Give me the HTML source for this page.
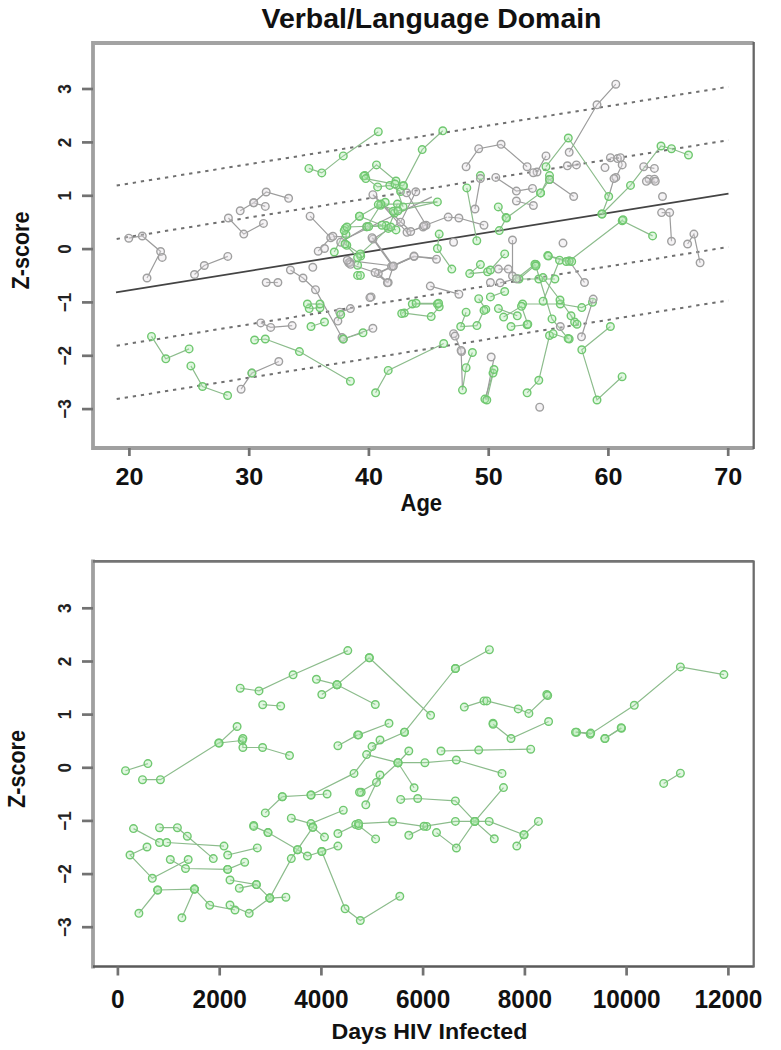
<!DOCTYPE html>
<html><head><meta charset="utf-8"><style>
html,body{margin:0;padding:0;background:#fff;}
body{width:781px;height:1050px;overflow:hidden;}
svg{display:block;}
text{font-family:"Liberation Sans",sans-serif;font-weight:bold;fill:#111;}
.yl{font-size:18px;font-weight:bold;fill:#222;}
.xl{font-size:24.2px;}
.xl2{font-size:26.5px;}
.al{font-size:22px;}
.ti{font-size:28px;}
</style></head><body>
<svg width="781" height="1050" viewBox="0 0 781 1050">
<defs><filter id="bl" x="-5%" y="-5%" width="110%" height="110%"><feGaussianBlur stdDeviation="0.6"/></filter></defs>
<rect width="781" height="1050" fill="#fff"/>

<text x="431.5" y="27.5" text-anchor="middle" class="ti" textLength="340" lengthAdjust="spacingAndGlyphs">Verbal/Language Domain</text>
<line x1="116" y1="292.4" x2="728.5" y2="193.6" stroke="#444" stroke-width="1.8"/>
<line x1="116" y1="185.6" x2="728.5" y2="86.8" stroke="#707070" stroke-width="2" stroke-dasharray="3.3 4.853" stroke-dashoffset="7.47"/>
<line x1="116" y1="239" x2="728.5" y2="140.2" stroke="#707070" stroke-width="2" stroke-dasharray="3.3 4.853" stroke-dashoffset="7.47"/>
<line x1="116" y1="345.8" x2="728.5" y2="247" stroke="#707070" stroke-width="2" stroke-dasharray="3.3 4.853" stroke-dashoffset="7.47"/>
<line x1="116" y1="399.2" x2="728.5" y2="300.4" stroke="#707070" stroke-width="2" stroke-dasharray="3.3 4.853" stroke-dashoffset="7.47"/>
<g filter="url(#bl)"><path d="M128.8 238.2 L142.3 236 L160.6 251.5 L147 278" stroke="#9c9c9c" stroke-width="1.2" fill="none"/>
<path d="M194.5 274.5 L204.3 265.5 L227.8 256.4" stroke="#9c9c9c" stroke-width="1.2" fill="none"/>
<path d="M228.4 218 L243.8 234.1 L263.5 223.4" stroke="#9c9c9c" stroke-width="1.2" fill="none"/>
<path d="M240.2 210.8 L253.7 202.8 L266.2 192 L288.6 198.3" stroke="#9c9c9c" stroke-width="1.2" fill="none"/>
<path d="M253.7 202.8 L265.3 206.4" stroke="#9c9c9c" stroke-width="1.2" fill="none"/>
<path d="M310.1 216.2 L330.7 237.7 L318.2 251.2" stroke="#9c9c9c" stroke-width="1.2" fill="none"/>
<path d="M266.2 282.5 L277.9 282.5" stroke="#9c9c9c" stroke-width="1.2" fill="none"/>
<path d="M290.4 270 L303 278 L315.5 289.7 L342 337.5" stroke="#9c9c9c" stroke-width="1.2" fill="none"/>
<path d="M260.8 322.9 L270.7 327.4 L292.2 325.6" stroke="#9c9c9c" stroke-width="1.2" fill="none"/>
<path d="M190.9 365.9 L202.5 386.5 L227.6 395.5" stroke="#8cbc8c" stroke-width="1.2" fill="none"/>
<path d="M241.1 389.2 L251.9 373.1 L278.8 361.5" stroke="#9c9c9c" stroke-width="1.2" fill="none"/>
<path d="M151.5 336.4 L165.8 358.8 L189.1 348.9" stroke="#8cbc8c" stroke-width="1.2" fill="none"/>
<path d="M254.6 340 L265.3 339 L299.4 351.6 L350.4 381.2" stroke="#8cbc8c" stroke-width="1.2" fill="none"/>
<path d="M308.9 168.4 L321.8 172.9 L343.3 155.9 L378.3 131.7" stroke="#8cbc8c" stroke-width="1.2" fill="none"/>
<path d="M442.8 130.8 L422.2 149.6 L403.4 185.8" stroke="#8cbc8c" stroke-width="1.2" fill="none"/>
<path d="M364.9 175.6 L376.5 164.9 L396 181" stroke="#8cbc8c" stroke-width="1.2" fill="none"/>
<path d="M466.1 166.7 L478.7 148.7 L501.1 144.3 L527.1 166.7" stroke="#9c9c9c" stroke-width="1.2" fill="none"/>
<path d="M615.8 84.2 L597 104.8 L569.2 152.3" stroke="#9c9c9c" stroke-width="1.2" fill="none"/>
<path d="M546 166.7 L568.3 138 L608.7 196.5 L602 214" stroke="#8cbc8c" stroke-width="1.2" fill="none"/>
<path d="M546 155.9 L537 172" stroke="#9c9c9c" stroke-width="1.2" fill="none"/>
<path d="M549.5 175.6 L540.6 192.9" stroke="#8cbc8c" stroke-width="1.2" fill="none"/>
<path d="M610.4 157.7 L617.6 158.6" stroke="#9c9c9c" stroke-width="1.2" fill="none"/>
<path d="M615.8 177.4 L622.2 164.9 L620.4 157.7" stroke="#9c9c9c" stroke-width="1.2" fill="none"/>
<path d="M688.5 155 L671.5 148.7 L661 146 L630.5 185.4 L602 214" stroke="#8cbc8c" stroke-width="1.2" fill="none"/>
<path d="M643.7 166.7 L654.4 168.4" stroke="#9c9c9c" stroke-width="1.2" fill="none"/>
<path d="M649 179.2 L654.4 179.2" stroke="#9c9c9c" stroke-width="1.2" fill="none"/>
<path d="M646.4 181.3 L655.3 181.3" stroke="#9c9c9c" stroke-width="1.2" fill="none"/>
<path d="M661.6 212.6 L669.7 212.6 L671.5 241.3" stroke="#9c9c9c" stroke-width="1.2" fill="none"/>
<path d="M622.2 220.7 L652.6 235.9" stroke="#8cbc8c" stroke-width="1.2" fill="none"/>
<path d="M687.6 244 L693.9 234.1 L700.1 262.8" stroke="#9c9c9c" stroke-width="1.2" fill="none"/>
<path d="M576.4 164.9 L567.4 165.8" stroke="#9c9c9c" stroke-width="1.2" fill="none"/>
<path d="M495.8 177.4 L516.4 191.1 L532.5 188.4" stroke="#9c9c9c" stroke-width="1.2" fill="none"/>
<path d="M516.4 201 L533.4 205.5" stroke="#9c9c9c" stroke-width="1.2" fill="none"/>
<path d="M573.7 196.5 L549.5 179.5" stroke="#9c9c9c" stroke-width="1.2" fill="none"/>
<path d="M584.5 282.5 L569.2 261" stroke="#9c9c9c" stroke-width="1.2" fill="none"/>
<path d="M498.4 269.1 L508.3 269.1" stroke="#9c9c9c" stroke-width="1.2" fill="none"/>
<path d="M345.3 228.4 L346 234.5 L346.8 245.3" stroke="#8cbc8c" stroke-width="1.2" fill="none"/>
<path d="M340.7 242.2 L366.8 226.8" stroke="#9c9c9c" stroke-width="1.2" fill="none"/>
<path d="M366.8 226.8 L380.6 205.3 L385.2 202.3" stroke="#8cbc8c" stroke-width="1.2" fill="none"/>
<path d="M363.7 176.1 L377.6 186.9 L389.8 185.4 L400.6 191.5" stroke="#8cbc8c" stroke-width="1.2" fill="none"/>
<path d="M394.5 213 L388.3 228.4 L396 229.9" stroke="#8cbc8c" stroke-width="1.2" fill="none"/>
<path d="M373 239.1 L400.6 222.2 L415.8 191.8" stroke="#9c9c9c" stroke-width="1.2" fill="none"/>
<path d="M360.7 256 L357.6 265.2" stroke="#8cbc8c" stroke-width="1.2" fill="none"/>
<path d="M381 204.1 L397.4 204.1 L393.3 211.2" stroke="#8cbc8c" stroke-width="1.2" fill="none"/>
<path d="M368.7 226.6 L386.1 225.6" stroke="#8cbc8c" stroke-width="1.2" fill="none"/>
<path d="M406.6 192.8 L426.1 225.3" stroke="#9c9c9c" stroke-width="1.2" fill="none"/>
<path d="M466.8 187.9 L476.8 240.7" stroke="#8cbc8c" stroke-width="1.2" fill="none"/>
<path d="M498.3 206.9 L506 217.6" stroke="#8cbc8c" stroke-width="1.2" fill="none"/>
<path d="M403.1 206.9 L395 184" stroke="#8cbc8c" stroke-width="1.2" fill="none"/>
<path d="M378.3 204.6 L398 210.8 L437.4 201.9" stroke="#8cbc8c" stroke-width="1.2" fill="none"/>
<path d="M390.8 227 L381.9 225.2 L359.5 216.2 L344.2 230.6" stroke="#8cbc8c" stroke-width="1.2" fill="none"/>
<path d="M346.9 227 L334.3 252" stroke="#8cbc8c" stroke-width="1.2" fill="none"/>
<path d="M439.2 234.1 L437.4 248.5 L451.8 269.1" stroke="#8cbc8c" stroke-width="1.2" fill="none"/>
<path d="M360.4 253.9 L345.1 244 L357.6 257.4" stroke="#8cbc8c" stroke-width="1.2" fill="none"/>
<path d="M357.6 275.4 L360.4 275.4" stroke="#8cbc8c" stroke-width="1.2" fill="none"/>
<path d="M480.4 264.6 L469.7 273.6 L487.6 271.8" stroke="#8cbc8c" stroke-width="1.2" fill="none"/>
<path d="M478.7 298.7 L485.8 309.4" stroke="#8cbc8c" stroke-width="1.2" fill="none"/>
<path d="M437.4 304 L412.3 304" stroke="#8cbc8c" stroke-width="1.2" fill="none"/>
<path d="M365.8 178.6 L403.4 185.8" stroke="#8cbc8c" stroke-width="1.2" fill="none"/>
<path d="M372.9 194.7 L407 232.3 L423.1 227" stroke="#9c9c9c" stroke-width="1.2" fill="none"/>
<path d="M372 237.7 L392.6 266.4 L378.3 273.6 L388.2 282.5" stroke="#9c9c9c" stroke-width="1.2" fill="none"/>
<path d="M414.1 256.5 L436.5 259.2" stroke="#9c9c9c" stroke-width="1.2" fill="none"/>
<path d="M448.2 217.1 L458.9 218 L484 225.2" stroke="#9c9c9c" stroke-width="1.2" fill="none"/>
<path d="M475 209 L480.4 178.6" stroke="#9c9c9c" stroke-width="1.2" fill="none"/>
<path d="M430.3 286.1 L458.9 294.2" stroke="#9c9c9c" stroke-width="1.2" fill="none"/>
<path d="M549.5 179.5 L540.6 192.9 L506.5 218 L499.3 230.6" stroke="#8cbc8c" stroke-width="1.2" fill="none"/>
<path d="M504.7 253.9 L490.4 270" stroke="#8cbc8c" stroke-width="1.2" fill="none"/>
<path d="M547.7 255.6 L569.2 261 L623 219.8" stroke="#8cbc8c" stroke-width="1.2" fill="none"/>
<path d="M536.1 264.6 L519 279 L538.8 279 L554.9 279" stroke="#8cbc8c" stroke-width="1.2" fill="none"/>
<path d="M504.7 291.5 L490.4 296.9" stroke="#8cbc8c" stroke-width="1.2" fill="none"/>
<path d="M522.6 304 L560.3 304 L581.8 307.6 L592.5 302.2" stroke="#8cbc8c" stroke-width="1.2" fill="none"/>
<path d="M608.7 196.5 L614 178.6" stroke="#9c9c9c" stroke-width="1.2" fill="none"/>
<path d="M309.2 308.6 L320 307.7" stroke="#8cbc8c" stroke-width="1.2" fill="none"/>
<path d="M311 326.5 L324.5 322" stroke="#8cbc8c" stroke-width="1.2" fill="none"/>
<path d="M337.9 321.1 L339.7 312.2 L350.4 308.6" stroke="#9c9c9c" stroke-width="1.2" fill="none"/>
<path d="M307.4 304 L320 304" stroke="#8cbc8c" stroke-width="1.2" fill="none"/>
<path d="M343.3 339 L372.9 328.3" stroke="#9c9c9c" stroke-width="1.2" fill="none"/>
<path d="M343.3 339 L363 332.8" stroke="#8cbc8c" stroke-width="1.2" fill="none"/>
<path d="M404.3 313.1 L431.2 316.6 L439.2 306.8" stroke="#8cbc8c" stroke-width="1.2" fill="none"/>
<path d="M466.1 312.2 L460.7 326.5 L476.9 325.6 L484 310.4" stroke="#8cbc8c" stroke-width="1.2" fill="none"/>
<path d="M443.7 343.5 L388.2 370.4 L375.6 392.8" stroke="#8cbc8c" stroke-width="1.2" fill="none"/>
<path d="M472.4 352.5 L466.1 367.7 L462.5 390.1" stroke="#8cbc8c" stroke-width="1.2" fill="none"/>
<path d="M493 373.1 L484.9 399.1" stroke="#8cbc8c" stroke-width="1.2" fill="none"/>
<path d="M494 369.5 L486.8 400" stroke="#8cbc8c" stroke-width="1.2" fill="none"/>
<path d="M549.5 335.5 L538.8 380.3 L527.1 392.8" stroke="#8cbc8c" stroke-width="1.2" fill="none"/>
<path d="M610.4 326.5 L581.8 349.8 L597 400 L622.1 376.7" stroke="#8cbc8c" stroke-width="1.2" fill="none"/>
<path d="M569.2 339 L553.1 333.7" stroke="#8cbc8c" stroke-width="1.2" fill="none"/>
<path d="M511 326.5 L527.1 324.7" stroke="#8cbc8c" stroke-width="1.2" fill="none"/>
<path d="M498.4 308.6 L517.3 315.8" stroke="#8cbc8c" stroke-width="1.2" fill="none"/>
<path d="M571 315.8 L574.6 322" stroke="#8cbc8c" stroke-width="1.2" fill="none"/>
<path d="M543 277.6 L560 300 L577 324.2" stroke="#8cbc8c" stroke-width="1.2" fill="none"/>
<path d="M512.5 240 L512.5 276" stroke="#9c9c9c" stroke-width="1.2" fill="none"/>
<path d="M559.5 260.2 L543.1 301.2" stroke="#8cbc8c" stroke-width="1.2" fill="none"/>
<path d="M534.9 264.3 L516.5 278.7" stroke="#8cbc8c" stroke-width="1.2" fill="none"/>
<path d="M516.5 278.7 L500.1 282.8" stroke="#9c9c9c" stroke-width="1.2" fill="none"/>
<path d="M493.9 358.6 L485.7 399.6" stroke="#9c9c9c" stroke-width="1.2" fill="none"/>
<path d="M455 336.1 L461.1 350.4" stroke="#9c9c9c" stroke-width="1.2" fill="none"/>
<path d="M461.1 350.4 L462.5 390.1" stroke="#9c9c9c" stroke-width="1.2" fill="none"/>
<path d="M350.5 264.3 L375.1 272.5 L387.4 282.8" stroke="#9c9c9c" stroke-width="1.2" fill="none"/>
<path d="M391.5 266.4 L414 256.1" stroke="#9c9c9c" stroke-width="1.2" fill="none"/>
<path d="M401.7 313.5 L416.1 303.3 L438.6 303.3" stroke="#8cbc8c" stroke-width="1.2" fill="none"/>
<path d="M548.4 256.1 L566.3 261.5 L571.7 261.5" stroke="#8cbc8c" stroke-width="1.2" fill="none"/>
<path d="M535.8 266 L552 318.9 L568.1 338.6" stroke="#8cbc8c" stroke-width="1.2" fill="none"/>
<path d="M581.5 336.8 L593.2 299.1" stroke="#9c9c9c" stroke-width="1.2" fill="none"/>
<path d="M503.6 317.1 L521.5 306.3 L527.8 324.2" stroke="#8cbc8c" stroke-width="1.2" fill="none"/>
<path d="M373.2 195 L410.7 231.5" stroke="#9c9c9c" stroke-width="1.2" fill="none"/>
<path d="M347.3 260.3 L393.4 266" stroke="#9c9c9c" stroke-width="1.2" fill="none"/>
<path d="M378 272.7 L414.5 256.4" stroke="#9c9c9c" stroke-width="1.2" fill="none"/>
<path d="M410.7 231.5 L424.1 225.7 L447.1 217" stroke="#9c9c9c" stroke-width="1.2" fill="none"/>
<path d="M373.2 238.2 L393.4 266" stroke="#9c9c9c" stroke-width="1.2" fill="none"/>
<path d="M387.6 283.3 L393.4 266 L414.5 256.4 L437.5 258.3" stroke="#9c9c9c" stroke-width="1.2" fill="none"/>
<path d="M332.9 236.3 L349.2 237.2 L431.8 196.9" stroke="#9c9c9c" stroke-width="1.2" fill="none"/>
<path d="M381 204.1 L359.4 216.2" stroke="#8cbc8c" stroke-width="1.2" fill="none"/>
<path d="M397.4 204.1 L437.4 201.9" stroke="#8cbc8c" stroke-width="1.2" fill="none"/>
<path d="M346.9 227 L386.1 225.6" stroke="#8cbc8c" stroke-width="1.2" fill="none"/>
<path d="M360.4 253.9 L388.3 228.4" stroke="#8cbc8c" stroke-width="1.2" fill="none"/>
<circle cx="128.8" cy="238.2" r="3.8" stroke="#a0a0a0" fill="rgba(225,220,225,0.35)" stroke-width="1.4"/>
<circle cx="142.3" cy="236" r="3.8" stroke="#a0a0a0" fill="rgba(225,220,225,0.35)" stroke-width="1.4"/>
<circle cx="160.6" cy="251.5" r="3.8" stroke="#a0a0a0" fill="rgba(225,220,225,0.35)" stroke-width="1.4"/>
<circle cx="147" cy="278" r="3.8" stroke="#a0a0a0" fill="rgba(225,220,225,0.35)" stroke-width="1.4"/>
<circle cx="162.2" cy="257.4" r="3.8" stroke="#a0a0a0" fill="rgba(225,220,225,0.35)" stroke-width="1.4"/>
<circle cx="194.5" cy="274.5" r="3.8" stroke="#a0a0a0" fill="rgba(225,220,225,0.35)" stroke-width="1.4"/>
<circle cx="204.3" cy="265.5" r="3.8" stroke="#a0a0a0" fill="rgba(225,220,225,0.35)" stroke-width="1.4"/>
<circle cx="227.8" cy="256.4" r="3.8" stroke="#a0a0a0" fill="rgba(225,220,225,0.35)" stroke-width="1.4"/>
<circle cx="228.4" cy="218" r="3.8" stroke="#a0a0a0" fill="rgba(225,220,225,0.35)" stroke-width="1.4"/>
<circle cx="243.8" cy="234.1" r="3.8" stroke="#a0a0a0" fill="rgba(225,220,225,0.35)" stroke-width="1.4"/>
<circle cx="263.5" cy="223.4" r="3.8" stroke="#a0a0a0" fill="rgba(225,220,225,0.35)" stroke-width="1.4"/>
<circle cx="240.2" cy="210.8" r="3.8" stroke="#a0a0a0" fill="rgba(225,220,225,0.35)" stroke-width="1.4"/>
<circle cx="253.7" cy="202.8" r="3.8" stroke="#a0a0a0" fill="rgba(225,220,225,0.35)" stroke-width="1.4"/>
<circle cx="266.2" cy="192" r="3.8" stroke="#a0a0a0" fill="rgba(225,220,225,0.35)" stroke-width="1.4"/>
<circle cx="288.6" cy="198.3" r="3.8" stroke="#a0a0a0" fill="rgba(225,220,225,0.35)" stroke-width="1.4"/>
<circle cx="253.7" cy="202.8" r="3.8" stroke="#a0a0a0" fill="rgba(225,220,225,0.35)" stroke-width="1.4"/>
<circle cx="265.3" cy="206.4" r="3.8" stroke="#a0a0a0" fill="rgba(225,220,225,0.35)" stroke-width="1.4"/>
<circle cx="310.1" cy="216.2" r="3.8" stroke="#a0a0a0" fill="rgba(225,220,225,0.35)" stroke-width="1.4"/>
<circle cx="330.7" cy="237.7" r="3.8" stroke="#a0a0a0" fill="rgba(225,220,225,0.35)" stroke-width="1.4"/>
<circle cx="318.2" cy="251.2" r="3.8" stroke="#a0a0a0" fill="rgba(225,220,225,0.35)" stroke-width="1.4"/>
<circle cx="324.5" cy="248.5" r="3.8" stroke="#a0a0a0" fill="rgba(225,220,225,0.35)" stroke-width="1.4"/>
<circle cx="266.2" cy="282.5" r="3.8" stroke="#a0a0a0" fill="rgba(225,220,225,0.35)" stroke-width="1.4"/>
<circle cx="277.9" cy="282.5" r="3.8" stroke="#a0a0a0" fill="rgba(225,220,225,0.35)" stroke-width="1.4"/>
<circle cx="290.4" cy="270" r="3.8" stroke="#a0a0a0" fill="rgba(225,220,225,0.35)" stroke-width="1.4"/>
<circle cx="303" cy="278" r="3.8" stroke="#a0a0a0" fill="rgba(225,220,225,0.35)" stroke-width="1.4"/>
<circle cx="315.5" cy="289.7" r="3.8" stroke="#a0a0a0" fill="rgba(225,220,225,0.35)" stroke-width="1.4"/>
<circle cx="342" cy="337.5" r="3.8" stroke="#a0a0a0" fill="rgba(225,220,225,0.35)" stroke-width="1.4"/>
<circle cx="312.8" cy="267.3" r="3.8" stroke="#a0a0a0" fill="rgba(225,220,225,0.35)" stroke-width="1.4"/>
<circle cx="348.7" cy="262.8" r="3.8" stroke="#a0a0a0" fill="rgba(225,220,225,0.35)" stroke-width="1.4"/>
<circle cx="260.8" cy="322.9" r="3.8" stroke="#a0a0a0" fill="rgba(225,220,225,0.35)" stroke-width="1.4"/>
<circle cx="270.7" cy="327.4" r="3.8" stroke="#a0a0a0" fill="rgba(225,220,225,0.35)" stroke-width="1.4"/>
<circle cx="292.2" cy="325.6" r="3.8" stroke="#a0a0a0" fill="rgba(225,220,225,0.35)" stroke-width="1.4"/>
<circle cx="190.9" cy="365.9" r="3.8" stroke="#70c870" fill="rgba(170,232,170,0.35)" stroke-width="1.4"/>
<circle cx="202.5" cy="386.5" r="3.8" stroke="#70c870" fill="rgba(170,232,170,0.35)" stroke-width="1.4"/>
<circle cx="227.6" cy="395.5" r="3.8" stroke="#70c870" fill="rgba(170,232,170,0.35)" stroke-width="1.4"/>
<circle cx="241.1" cy="389.2" r="3.8" stroke="#a0a0a0" fill="rgba(225,220,225,0.35)" stroke-width="1.4"/>
<circle cx="251.9" cy="373.1" r="3.8" stroke="#a0a0a0" fill="rgba(225,220,225,0.35)" stroke-width="1.4"/>
<circle cx="278.8" cy="361.5" r="3.8" stroke="#a0a0a0" fill="rgba(225,220,225,0.35)" stroke-width="1.4"/>
<circle cx="251.9" cy="373.1" r="3.8" stroke="#70c870" fill="rgba(170,232,170,0.35)" stroke-width="1.4"/>
<circle cx="151.5" cy="336.4" r="3.8" stroke="#70c870" fill="rgba(170,232,170,0.35)" stroke-width="1.4"/>
<circle cx="165.8" cy="358.8" r="3.8" stroke="#70c870" fill="rgba(170,232,170,0.35)" stroke-width="1.4"/>
<circle cx="189.1" cy="348.9" r="3.8" stroke="#70c870" fill="rgba(170,232,170,0.35)" stroke-width="1.4"/>
<circle cx="254.6" cy="340" r="3.8" stroke="#70c870" fill="rgba(170,232,170,0.35)" stroke-width="1.4"/>
<circle cx="265.3" cy="339" r="3.8" stroke="#70c870" fill="rgba(170,232,170,0.35)" stroke-width="1.4"/>
<circle cx="299.4" cy="351.6" r="3.8" stroke="#70c870" fill="rgba(170,232,170,0.35)" stroke-width="1.4"/>
<circle cx="350.4" cy="381.2" r="3.8" stroke="#70c870" fill="rgba(170,232,170,0.35)" stroke-width="1.4"/>
<circle cx="308.9" cy="168.4" r="3.8" stroke="#70c870" fill="rgba(170,232,170,0.35)" stroke-width="1.4"/>
<circle cx="321.8" cy="172.9" r="3.8" stroke="#70c870" fill="rgba(170,232,170,0.35)" stroke-width="1.4"/>
<circle cx="343.3" cy="155.9" r="3.8" stroke="#70c870" fill="rgba(170,232,170,0.35)" stroke-width="1.4"/>
<circle cx="378.3" cy="131.7" r="3.8" stroke="#70c870" fill="rgba(170,232,170,0.35)" stroke-width="1.4"/>
<circle cx="442.8" cy="130.8" r="3.8" stroke="#70c870" fill="rgba(170,232,170,0.35)" stroke-width="1.4"/>
<circle cx="422.2" cy="149.6" r="3.8" stroke="#70c870" fill="rgba(170,232,170,0.35)" stroke-width="1.4"/>
<circle cx="403.4" cy="185.8" r="3.8" stroke="#70c870" fill="rgba(170,232,170,0.35)" stroke-width="1.4"/>
<circle cx="364.9" cy="175.6" r="3.8" stroke="#70c870" fill="rgba(170,232,170,0.35)" stroke-width="1.4"/>
<circle cx="376.5" cy="164.9" r="3.8" stroke="#70c870" fill="rgba(170,232,170,0.35)" stroke-width="1.4"/>
<circle cx="396" cy="181" r="3.8" stroke="#70c870" fill="rgba(170,232,170,0.35)" stroke-width="1.4"/>
<circle cx="466.1" cy="166.7" r="3.8" stroke="#a0a0a0" fill="rgba(225,220,225,0.35)" stroke-width="1.4"/>
<circle cx="478.7" cy="148.7" r="3.8" stroke="#a0a0a0" fill="rgba(225,220,225,0.35)" stroke-width="1.4"/>
<circle cx="501.1" cy="144.3" r="3.8" stroke="#a0a0a0" fill="rgba(225,220,225,0.35)" stroke-width="1.4"/>
<circle cx="527.1" cy="166.7" r="3.8" stroke="#a0a0a0" fill="rgba(225,220,225,0.35)" stroke-width="1.4"/>
<circle cx="480.4" cy="175.6" r="3.8" stroke="#70c870" fill="rgba(170,232,170,0.35)" stroke-width="1.4"/>
<circle cx="615.8" cy="84.2" r="3.8" stroke="#a0a0a0" fill="rgba(225,220,225,0.35)" stroke-width="1.4"/>
<circle cx="597" cy="104.8" r="3.8" stroke="#a0a0a0" fill="rgba(225,220,225,0.35)" stroke-width="1.4"/>
<circle cx="569.2" cy="152.3" r="3.8" stroke="#a0a0a0" fill="rgba(225,220,225,0.35)" stroke-width="1.4"/>
<circle cx="546" cy="166.7" r="3.8" stroke="#70c870" fill="rgba(170,232,170,0.35)" stroke-width="1.4"/>
<circle cx="568.3" cy="138" r="3.8" stroke="#70c870" fill="rgba(170,232,170,0.35)" stroke-width="1.4"/>
<circle cx="608.7" cy="196.5" r="3.8" stroke="#70c870" fill="rgba(170,232,170,0.35)" stroke-width="1.4"/>
<circle cx="602" cy="214" r="3.8" stroke="#70c870" fill="rgba(170,232,170,0.35)" stroke-width="1.4"/>
<circle cx="546" cy="155.9" r="3.8" stroke="#a0a0a0" fill="rgba(225,220,225,0.35)" stroke-width="1.4"/>
<circle cx="537" cy="172" r="3.8" stroke="#a0a0a0" fill="rgba(225,220,225,0.35)" stroke-width="1.4"/>
<circle cx="549.5" cy="175.6" r="3.8" stroke="#70c870" fill="rgba(170,232,170,0.35)" stroke-width="1.4"/>
<circle cx="540.6" cy="192.9" r="3.8" stroke="#70c870" fill="rgba(170,232,170,0.35)" stroke-width="1.4"/>
<circle cx="610.4" cy="157.7" r="3.8" stroke="#a0a0a0" fill="rgba(225,220,225,0.35)" stroke-width="1.4"/>
<circle cx="617.6" cy="158.6" r="3.8" stroke="#a0a0a0" fill="rgba(225,220,225,0.35)" stroke-width="1.4"/>
<circle cx="605" cy="167.6" r="3.8" stroke="#a0a0a0" fill="rgba(225,220,225,0.35)" stroke-width="1.4"/>
<circle cx="615.8" cy="177.4" r="3.8" stroke="#a0a0a0" fill="rgba(225,220,225,0.35)" stroke-width="1.4"/>
<circle cx="622.2" cy="164.9" r="3.8" stroke="#a0a0a0" fill="rgba(225,220,225,0.35)" stroke-width="1.4"/>
<circle cx="620.4" cy="157.7" r="3.8" stroke="#a0a0a0" fill="rgba(225,220,225,0.35)" stroke-width="1.4"/>
<circle cx="688.5" cy="155" r="3.8" stroke="#70c870" fill="rgba(170,232,170,0.35)" stroke-width="1.4"/>
<circle cx="671.5" cy="148.7" r="3.8" stroke="#70c870" fill="rgba(170,232,170,0.35)" stroke-width="1.4"/>
<circle cx="661" cy="146" r="3.8" stroke="#70c870" fill="rgba(170,232,170,0.35)" stroke-width="1.4"/>
<circle cx="630.5" cy="185.4" r="3.8" stroke="#70c870" fill="rgba(170,232,170,0.35)" stroke-width="1.4"/>
<circle cx="602" cy="214" r="3.8" stroke="#70c870" fill="rgba(170,232,170,0.35)" stroke-width="1.4"/>
<circle cx="643.7" cy="166.7" r="3.8" stroke="#a0a0a0" fill="rgba(225,220,225,0.35)" stroke-width="1.4"/>
<circle cx="654.4" cy="168.4" r="3.8" stroke="#a0a0a0" fill="rgba(225,220,225,0.35)" stroke-width="1.4"/>
<circle cx="649" cy="179.2" r="3.8" stroke="#a0a0a0" fill="rgba(225,220,225,0.35)" stroke-width="1.4"/>
<circle cx="654.4" cy="179.2" r="3.8" stroke="#a0a0a0" fill="rgba(225,220,225,0.35)" stroke-width="1.4"/>
<circle cx="646.4" cy="181.3" r="3.8" stroke="#a0a0a0" fill="rgba(225,220,225,0.35)" stroke-width="1.4"/>
<circle cx="655.3" cy="181.3" r="3.8" stroke="#a0a0a0" fill="rgba(225,220,225,0.35)" stroke-width="1.4"/>
<circle cx="662.5" cy="196.5" r="3.8" stroke="#a0a0a0" fill="rgba(225,220,225,0.35)" stroke-width="1.4"/>
<circle cx="661.6" cy="212.6" r="3.8" stroke="#a0a0a0" fill="rgba(225,220,225,0.35)" stroke-width="1.4"/>
<circle cx="669.7" cy="212.6" r="3.8" stroke="#a0a0a0" fill="rgba(225,220,225,0.35)" stroke-width="1.4"/>
<circle cx="671.5" cy="241.3" r="3.8" stroke="#a0a0a0" fill="rgba(225,220,225,0.35)" stroke-width="1.4"/>
<circle cx="622.2" cy="220.7" r="3.8" stroke="#70c870" fill="rgba(170,232,170,0.35)" stroke-width="1.4"/>
<circle cx="652.6" cy="235.9" r="3.8" stroke="#70c870" fill="rgba(170,232,170,0.35)" stroke-width="1.4"/>
<circle cx="687.6" cy="244" r="3.8" stroke="#a0a0a0" fill="rgba(225,220,225,0.35)" stroke-width="1.4"/>
<circle cx="693.9" cy="234.1" r="3.8" stroke="#a0a0a0" fill="rgba(225,220,225,0.35)" stroke-width="1.4"/>
<circle cx="700.1" cy="262.8" r="3.8" stroke="#a0a0a0" fill="rgba(225,220,225,0.35)" stroke-width="1.4"/>
<circle cx="576.4" cy="164.9" r="3.8" stroke="#a0a0a0" fill="rgba(225,220,225,0.35)" stroke-width="1.4"/>
<circle cx="567.4" cy="165.8" r="3.8" stroke="#a0a0a0" fill="rgba(225,220,225,0.35)" stroke-width="1.4"/>
<circle cx="495.8" cy="177.4" r="3.8" stroke="#a0a0a0" fill="rgba(225,220,225,0.35)" stroke-width="1.4"/>
<circle cx="516.4" cy="191.1" r="3.8" stroke="#a0a0a0" fill="rgba(225,220,225,0.35)" stroke-width="1.4"/>
<circle cx="532.5" cy="188.4" r="3.8" stroke="#a0a0a0" fill="rgba(225,220,225,0.35)" stroke-width="1.4"/>
<circle cx="516.4" cy="201" r="3.8" stroke="#a0a0a0" fill="rgba(225,220,225,0.35)" stroke-width="1.4"/>
<circle cx="533.4" cy="205.5" r="3.8" stroke="#a0a0a0" fill="rgba(225,220,225,0.35)" stroke-width="1.4"/>
<circle cx="573.7" cy="196.5" r="3.8" stroke="#a0a0a0" fill="rgba(225,220,225,0.35)" stroke-width="1.4"/>
<circle cx="549.5" cy="179.5" r="3.8" stroke="#a0a0a0" fill="rgba(225,220,225,0.35)" stroke-width="1.4"/>
<circle cx="614" cy="178.6" r="3.8" stroke="#a0a0a0" fill="rgba(225,220,225,0.35)" stroke-width="1.4"/>
<circle cx="563" cy="243.1" r="3.8" stroke="#a0a0a0" fill="rgba(225,220,225,0.35)" stroke-width="1.4"/>
<circle cx="584.5" cy="282.5" r="3.8" stroke="#a0a0a0" fill="rgba(225,220,225,0.35)" stroke-width="1.4"/>
<circle cx="569.2" cy="261" r="3.8" stroke="#a0a0a0" fill="rgba(225,220,225,0.35)" stroke-width="1.4"/>
<circle cx="498.4" cy="269.1" r="3.8" stroke="#a0a0a0" fill="rgba(225,220,225,0.35)" stroke-width="1.4"/>
<circle cx="508.3" cy="269.1" r="3.8" stroke="#a0a0a0" fill="rgba(225,220,225,0.35)" stroke-width="1.4"/>
<circle cx="490.4" cy="282.5" r="3.8" stroke="#a0a0a0" fill="rgba(225,220,225,0.35)" stroke-width="1.4"/>
<circle cx="345.3" cy="228.4" r="3.8" stroke="#70c870" fill="rgba(170,232,170,0.35)" stroke-width="1.4"/>
<circle cx="346" cy="234.5" r="3.8" stroke="#70c870" fill="rgba(170,232,170,0.35)" stroke-width="1.4"/>
<circle cx="346.8" cy="245.3" r="3.8" stroke="#70c870" fill="rgba(170,232,170,0.35)" stroke-width="1.4"/>
<circle cx="340.7" cy="242.2" r="3.8" stroke="#a0a0a0" fill="rgba(225,220,225,0.35)" stroke-width="1.4"/>
<circle cx="366.8" cy="226.8" r="3.8" stroke="#a0a0a0" fill="rgba(225,220,225,0.35)" stroke-width="1.4"/>
<circle cx="366.8" cy="226.8" r="3.8" stroke="#70c870" fill="rgba(170,232,170,0.35)" stroke-width="1.4"/>
<circle cx="380.6" cy="205.3" r="3.8" stroke="#70c870" fill="rgba(170,232,170,0.35)" stroke-width="1.4"/>
<circle cx="385.2" cy="202.3" r="3.8" stroke="#70c870" fill="rgba(170,232,170,0.35)" stroke-width="1.4"/>
<circle cx="363.7" cy="176.1" r="3.8" stroke="#70c870" fill="rgba(170,232,170,0.35)" stroke-width="1.4"/>
<circle cx="377.6" cy="186.9" r="3.8" stroke="#70c870" fill="rgba(170,232,170,0.35)" stroke-width="1.4"/>
<circle cx="389.8" cy="185.4" r="3.8" stroke="#70c870" fill="rgba(170,232,170,0.35)" stroke-width="1.4"/>
<circle cx="400.6" cy="191.5" r="3.8" stroke="#70c870" fill="rgba(170,232,170,0.35)" stroke-width="1.4"/>
<circle cx="394.5" cy="213" r="3.8" stroke="#70c870" fill="rgba(170,232,170,0.35)" stroke-width="1.4"/>
<circle cx="388.3" cy="228.4" r="3.8" stroke="#70c870" fill="rgba(170,232,170,0.35)" stroke-width="1.4"/>
<circle cx="396" cy="229.9" r="3.8" stroke="#70c870" fill="rgba(170,232,170,0.35)" stroke-width="1.4"/>
<circle cx="373" cy="239.1" r="3.8" stroke="#a0a0a0" fill="rgba(225,220,225,0.35)" stroke-width="1.4"/>
<circle cx="400.6" cy="222.2" r="3.8" stroke="#a0a0a0" fill="rgba(225,220,225,0.35)" stroke-width="1.4"/>
<circle cx="415.8" cy="191.8" r="3.8" stroke="#a0a0a0" fill="rgba(225,220,225,0.35)" stroke-width="1.4"/>
<circle cx="360.7" cy="256" r="3.8" stroke="#70c870" fill="rgba(170,232,170,0.35)" stroke-width="1.4"/>
<circle cx="357.6" cy="265.2" r="3.8" stroke="#70c870" fill="rgba(170,232,170,0.35)" stroke-width="1.4"/>
<circle cx="349.9" cy="262.2" r="3.8" stroke="#a0a0a0" fill="rgba(225,220,225,0.35)" stroke-width="1.4"/>
<circle cx="381" cy="204.1" r="3.8" stroke="#70c870" fill="rgba(170,232,170,0.35)" stroke-width="1.4"/>
<circle cx="397.4" cy="204.1" r="3.8" stroke="#70c870" fill="rgba(170,232,170,0.35)" stroke-width="1.4"/>
<circle cx="393.3" cy="211.2" r="3.8" stroke="#70c870" fill="rgba(170,232,170,0.35)" stroke-width="1.4"/>
<circle cx="368.7" cy="226.6" r="3.8" stroke="#70c870" fill="rgba(170,232,170,0.35)" stroke-width="1.4"/>
<circle cx="386.1" cy="225.6" r="3.8" stroke="#70c870" fill="rgba(170,232,170,0.35)" stroke-width="1.4"/>
<circle cx="406.6" cy="192.8" r="3.8" stroke="#a0a0a0" fill="rgba(225,220,225,0.35)" stroke-width="1.4"/>
<circle cx="426.1" cy="225.3" r="3.8" stroke="#a0a0a0" fill="rgba(225,220,225,0.35)" stroke-width="1.4"/>
<circle cx="466.8" cy="187.9" r="3.8" stroke="#70c870" fill="rgba(170,232,170,0.35)" stroke-width="1.4"/>
<circle cx="476.8" cy="240.7" r="3.8" stroke="#70c870" fill="rgba(170,232,170,0.35)" stroke-width="1.4"/>
<circle cx="498.3" cy="206.9" r="3.8" stroke="#70c870" fill="rgba(170,232,170,0.35)" stroke-width="1.4"/>
<circle cx="506" cy="217.6" r="3.8" stroke="#70c870" fill="rgba(170,232,170,0.35)" stroke-width="1.4"/>
<circle cx="403.1" cy="206.9" r="3.8" stroke="#70c870" fill="rgba(170,232,170,0.35)" stroke-width="1.4"/>
<circle cx="395" cy="184" r="3.8" stroke="#70c870" fill="rgba(170,232,170,0.35)" stroke-width="1.4"/>
<circle cx="533.3" cy="172.7" r="3.8" stroke="#a0a0a0" fill="rgba(225,220,225,0.35)" stroke-width="1.4"/>
<circle cx="378.3" cy="204.6" r="3.8" stroke="#70c870" fill="rgba(170,232,170,0.35)" stroke-width="1.4"/>
<circle cx="398" cy="210.8" r="3.8" stroke="#70c870" fill="rgba(170,232,170,0.35)" stroke-width="1.4"/>
<circle cx="437.4" cy="201.9" r="3.8" stroke="#70c870" fill="rgba(170,232,170,0.35)" stroke-width="1.4"/>
<circle cx="390.8" cy="227" r="3.8" stroke="#70c870" fill="rgba(170,232,170,0.35)" stroke-width="1.4"/>
<circle cx="381.9" cy="225.2" r="3.8" stroke="#70c870" fill="rgba(170,232,170,0.35)" stroke-width="1.4"/>
<circle cx="359.5" cy="216.2" r="3.8" stroke="#70c870" fill="rgba(170,232,170,0.35)" stroke-width="1.4"/>
<circle cx="344.2" cy="230.6" r="3.8" stroke="#70c870" fill="rgba(170,232,170,0.35)" stroke-width="1.4"/>
<circle cx="346.9" cy="227" r="3.8" stroke="#70c870" fill="rgba(170,232,170,0.35)" stroke-width="1.4"/>
<circle cx="334.3" cy="252" r="3.8" stroke="#70c870" fill="rgba(170,232,170,0.35)" stroke-width="1.4"/>
<circle cx="439.2" cy="234.1" r="3.8" stroke="#70c870" fill="rgba(170,232,170,0.35)" stroke-width="1.4"/>
<circle cx="437.4" cy="248.5" r="3.8" stroke="#70c870" fill="rgba(170,232,170,0.35)" stroke-width="1.4"/>
<circle cx="451.8" cy="269.1" r="3.8" stroke="#70c870" fill="rgba(170,232,170,0.35)" stroke-width="1.4"/>
<circle cx="360.4" cy="253.9" r="3.8" stroke="#70c870" fill="rgba(170,232,170,0.35)" stroke-width="1.4"/>
<circle cx="345.1" cy="244" r="3.8" stroke="#70c870" fill="rgba(170,232,170,0.35)" stroke-width="1.4"/>
<circle cx="357.6" cy="257.4" r="3.8" stroke="#70c870" fill="rgba(170,232,170,0.35)" stroke-width="1.4"/>
<circle cx="357.6" cy="275.4" r="3.8" stroke="#70c870" fill="rgba(170,232,170,0.35)" stroke-width="1.4"/>
<circle cx="360.4" cy="275.4" r="3.8" stroke="#70c870" fill="rgba(170,232,170,0.35)" stroke-width="1.4"/>
<circle cx="480.4" cy="264.6" r="3.8" stroke="#70c870" fill="rgba(170,232,170,0.35)" stroke-width="1.4"/>
<circle cx="469.7" cy="273.6" r="3.8" stroke="#70c870" fill="rgba(170,232,170,0.35)" stroke-width="1.4"/>
<circle cx="487.6" cy="271.8" r="3.8" stroke="#70c870" fill="rgba(170,232,170,0.35)" stroke-width="1.4"/>
<circle cx="478.7" cy="298.7" r="3.8" stroke="#70c870" fill="rgba(170,232,170,0.35)" stroke-width="1.4"/>
<circle cx="485.8" cy="309.4" r="3.8" stroke="#70c870" fill="rgba(170,232,170,0.35)" stroke-width="1.4"/>
<circle cx="437.4" cy="304" r="3.8" stroke="#70c870" fill="rgba(170,232,170,0.35)" stroke-width="1.4"/>
<circle cx="412.3" cy="304" r="3.8" stroke="#70c870" fill="rgba(170,232,170,0.35)" stroke-width="1.4"/>
<circle cx="365.8" cy="178.6" r="3.8" stroke="#70c870" fill="rgba(170,232,170,0.35)" stroke-width="1.4"/>
<circle cx="403.4" cy="185.8" r="3.8" stroke="#70c870" fill="rgba(170,232,170,0.35)" stroke-width="1.4"/>
<circle cx="359.4" cy="216.2" r="3.8" stroke="#70c870" fill="rgba(170,232,170,0.35)" stroke-width="1.4"/>
<circle cx="372.9" cy="194.7" r="3.8" stroke="#a0a0a0" fill="rgba(225,220,225,0.35)" stroke-width="1.4"/>
<circle cx="407" cy="232.3" r="3.8" stroke="#a0a0a0" fill="rgba(225,220,225,0.35)" stroke-width="1.4"/>
<circle cx="423.1" cy="227" r="3.8" stroke="#a0a0a0" fill="rgba(225,220,225,0.35)" stroke-width="1.4"/>
<circle cx="372" cy="237.7" r="3.8" stroke="#a0a0a0" fill="rgba(225,220,225,0.35)" stroke-width="1.4"/>
<circle cx="392.6" cy="266.4" r="3.8" stroke="#a0a0a0" fill="rgba(225,220,225,0.35)" stroke-width="1.4"/>
<circle cx="378.3" cy="273.6" r="3.8" stroke="#a0a0a0" fill="rgba(225,220,225,0.35)" stroke-width="1.4"/>
<circle cx="388.2" cy="282.5" r="3.8" stroke="#a0a0a0" fill="rgba(225,220,225,0.35)" stroke-width="1.4"/>
<circle cx="414.1" cy="256.5" r="3.8" stroke="#a0a0a0" fill="rgba(225,220,225,0.35)" stroke-width="1.4"/>
<circle cx="436.5" cy="259.2" r="3.8" stroke="#a0a0a0" fill="rgba(225,220,225,0.35)" stroke-width="1.4"/>
<circle cx="448.2" cy="217.1" r="3.8" stroke="#a0a0a0" fill="rgba(225,220,225,0.35)" stroke-width="1.4"/>
<circle cx="458.9" cy="218" r="3.8" stroke="#a0a0a0" fill="rgba(225,220,225,0.35)" stroke-width="1.4"/>
<circle cx="484" cy="225.2" r="3.8" stroke="#a0a0a0" fill="rgba(225,220,225,0.35)" stroke-width="1.4"/>
<circle cx="475" cy="209" r="3.8" stroke="#a0a0a0" fill="rgba(225,220,225,0.35)" stroke-width="1.4"/>
<circle cx="480.4" cy="178.6" r="3.8" stroke="#a0a0a0" fill="rgba(225,220,225,0.35)" stroke-width="1.4"/>
<circle cx="430.3" cy="286.1" r="3.8" stroke="#a0a0a0" fill="rgba(225,220,225,0.35)" stroke-width="1.4"/>
<circle cx="458.9" cy="294.2" r="3.8" stroke="#a0a0a0" fill="rgba(225,220,225,0.35)" stroke-width="1.4"/>
<circle cx="371.1" cy="296.9" r="3.8" stroke="#a0a0a0" fill="rgba(225,220,225,0.35)" stroke-width="1.4"/>
<circle cx="453.6" cy="242.2" r="3.8" stroke="#a0a0a0" fill="rgba(225,220,225,0.35)" stroke-width="1.4"/>
<circle cx="549.5" cy="179.5" r="3.8" stroke="#70c870" fill="rgba(170,232,170,0.35)" stroke-width="1.4"/>
<circle cx="540.6" cy="192.9" r="3.8" stroke="#70c870" fill="rgba(170,232,170,0.35)" stroke-width="1.4"/>
<circle cx="506.5" cy="218" r="3.8" stroke="#70c870" fill="rgba(170,232,170,0.35)" stroke-width="1.4"/>
<circle cx="499.3" cy="230.6" r="3.8" stroke="#70c870" fill="rgba(170,232,170,0.35)" stroke-width="1.4"/>
<circle cx="504.7" cy="253.9" r="3.8" stroke="#70c870" fill="rgba(170,232,170,0.35)" stroke-width="1.4"/>
<circle cx="490.4" cy="270" r="3.8" stroke="#70c870" fill="rgba(170,232,170,0.35)" stroke-width="1.4"/>
<circle cx="547.7" cy="255.6" r="3.8" stroke="#70c870" fill="rgba(170,232,170,0.35)" stroke-width="1.4"/>
<circle cx="569.2" cy="261" r="3.8" stroke="#70c870" fill="rgba(170,232,170,0.35)" stroke-width="1.4"/>
<circle cx="623" cy="219.8" r="3.8" stroke="#70c870" fill="rgba(170,232,170,0.35)" stroke-width="1.4"/>
<circle cx="536.1" cy="264.6" r="3.8" stroke="#70c870" fill="rgba(170,232,170,0.35)" stroke-width="1.4"/>
<circle cx="519" cy="279" r="3.8" stroke="#70c870" fill="rgba(170,232,170,0.35)" stroke-width="1.4"/>
<circle cx="538.8" cy="279" r="3.8" stroke="#70c870" fill="rgba(170,232,170,0.35)" stroke-width="1.4"/>
<circle cx="554.9" cy="279" r="3.8" stroke="#70c870" fill="rgba(170,232,170,0.35)" stroke-width="1.4"/>
<circle cx="504.7" cy="291.5" r="3.8" stroke="#70c870" fill="rgba(170,232,170,0.35)" stroke-width="1.4"/>
<circle cx="490.4" cy="296.9" r="3.8" stroke="#70c870" fill="rgba(170,232,170,0.35)" stroke-width="1.4"/>
<circle cx="522.6" cy="304" r="3.8" stroke="#70c870" fill="rgba(170,232,170,0.35)" stroke-width="1.4"/>
<circle cx="560.3" cy="304" r="3.8" stroke="#70c870" fill="rgba(170,232,170,0.35)" stroke-width="1.4"/>
<circle cx="581.8" cy="307.6" r="3.8" stroke="#70c870" fill="rgba(170,232,170,0.35)" stroke-width="1.4"/>
<circle cx="592.5" cy="302.2" r="3.8" stroke="#70c870" fill="rgba(170,232,170,0.35)" stroke-width="1.4"/>
<circle cx="309.2" cy="308.6" r="3.8" stroke="#70c870" fill="rgba(170,232,170,0.35)" stroke-width="1.4"/>
<circle cx="320" cy="307.7" r="3.8" stroke="#70c870" fill="rgba(170,232,170,0.35)" stroke-width="1.4"/>
<circle cx="311" cy="326.5" r="3.8" stroke="#70c870" fill="rgba(170,232,170,0.35)" stroke-width="1.4"/>
<circle cx="324.5" cy="322" r="3.8" stroke="#70c870" fill="rgba(170,232,170,0.35)" stroke-width="1.4"/>
<circle cx="337.9" cy="321.1" r="3.8" stroke="#a0a0a0" fill="rgba(225,220,225,0.35)" stroke-width="1.4"/>
<circle cx="339.7" cy="312.2" r="3.8" stroke="#a0a0a0" fill="rgba(225,220,225,0.35)" stroke-width="1.4"/>
<circle cx="350.4" cy="308.6" r="3.8" stroke="#a0a0a0" fill="rgba(225,220,225,0.35)" stroke-width="1.4"/>
<circle cx="307.4" cy="304" r="3.8" stroke="#70c870" fill="rgba(170,232,170,0.35)" stroke-width="1.4"/>
<circle cx="320" cy="304" r="3.8" stroke="#70c870" fill="rgba(170,232,170,0.35)" stroke-width="1.4"/>
<circle cx="343.3" cy="339" r="3.8" stroke="#a0a0a0" fill="rgba(225,220,225,0.35)" stroke-width="1.4"/>
<circle cx="372.9" cy="328.3" r="3.8" stroke="#a0a0a0" fill="rgba(225,220,225,0.35)" stroke-width="1.4"/>
<circle cx="343.3" cy="339" r="3.8" stroke="#70c870" fill="rgba(170,232,170,0.35)" stroke-width="1.4"/>
<circle cx="363" cy="332.8" r="3.8" stroke="#70c870" fill="rgba(170,232,170,0.35)" stroke-width="1.4"/>
<circle cx="369.9" cy="297.6" r="3.8" stroke="#a0a0a0" fill="rgba(225,220,225,0.35)" stroke-width="1.4"/>
<circle cx="340.7" cy="314.5" r="3.8" stroke="#70c870" fill="rgba(170,232,170,0.35)" stroke-width="1.4"/>
<circle cx="404.3" cy="313.1" r="3.8" stroke="#70c870" fill="rgba(170,232,170,0.35)" stroke-width="1.4"/>
<circle cx="431.2" cy="316.6" r="3.8" stroke="#70c870" fill="rgba(170,232,170,0.35)" stroke-width="1.4"/>
<circle cx="439.2" cy="306.8" r="3.8" stroke="#70c870" fill="rgba(170,232,170,0.35)" stroke-width="1.4"/>
<circle cx="466.1" cy="312.2" r="3.8" stroke="#70c870" fill="rgba(170,232,170,0.35)" stroke-width="1.4"/>
<circle cx="460.7" cy="326.5" r="3.8" stroke="#70c870" fill="rgba(170,232,170,0.35)" stroke-width="1.4"/>
<circle cx="476.9" cy="325.6" r="3.8" stroke="#70c870" fill="rgba(170,232,170,0.35)" stroke-width="1.4"/>
<circle cx="484" cy="310.4" r="3.8" stroke="#70c870" fill="rgba(170,232,170,0.35)" stroke-width="1.4"/>
<circle cx="453.6" cy="333.7" r="3.8" stroke="#a0a0a0" fill="rgba(225,220,225,0.35)" stroke-width="1.4"/>
<circle cx="443.7" cy="343.5" r="3.8" stroke="#70c870" fill="rgba(170,232,170,0.35)" stroke-width="1.4"/>
<circle cx="388.2" cy="370.4" r="3.8" stroke="#70c870" fill="rgba(170,232,170,0.35)" stroke-width="1.4"/>
<circle cx="375.6" cy="392.8" r="3.8" stroke="#70c870" fill="rgba(170,232,170,0.35)" stroke-width="1.4"/>
<circle cx="461.6" cy="351.6" r="3.8" stroke="#a0a0a0" fill="rgba(225,220,225,0.35)" stroke-width="1.4"/>
<circle cx="472.4" cy="352.5" r="3.8" stroke="#70c870" fill="rgba(170,232,170,0.35)" stroke-width="1.4"/>
<circle cx="466.1" cy="367.7" r="3.8" stroke="#70c870" fill="rgba(170,232,170,0.35)" stroke-width="1.4"/>
<circle cx="462.5" cy="390.1" r="3.8" stroke="#70c870" fill="rgba(170,232,170,0.35)" stroke-width="1.4"/>
<circle cx="493" cy="373.1" r="3.8" stroke="#70c870" fill="rgba(170,232,170,0.35)" stroke-width="1.4"/>
<circle cx="484.9" cy="399.1" r="3.8" stroke="#70c870" fill="rgba(170,232,170,0.35)" stroke-width="1.4"/>
<circle cx="491.2" cy="357" r="3.8" stroke="#a0a0a0" fill="rgba(225,220,225,0.35)" stroke-width="1.4"/>
<circle cx="494" cy="369.5" r="3.8" stroke="#70c870" fill="rgba(170,232,170,0.35)" stroke-width="1.4"/>
<circle cx="486.8" cy="400" r="3.8" stroke="#70c870" fill="rgba(170,232,170,0.35)" stroke-width="1.4"/>
<circle cx="549.5" cy="335.5" r="3.8" stroke="#70c870" fill="rgba(170,232,170,0.35)" stroke-width="1.4"/>
<circle cx="538.8" cy="380.3" r="3.8" stroke="#70c870" fill="rgba(170,232,170,0.35)" stroke-width="1.4"/>
<circle cx="527.1" cy="392.8" r="3.8" stroke="#70c870" fill="rgba(170,232,170,0.35)" stroke-width="1.4"/>
<circle cx="539.7" cy="407.2" r="3.8" stroke="#a0a0a0" fill="rgba(225,220,225,0.35)" stroke-width="1.4"/>
<circle cx="610.4" cy="326.5" r="3.8" stroke="#70c870" fill="rgba(170,232,170,0.35)" stroke-width="1.4"/>
<circle cx="581.8" cy="349.8" r="3.8" stroke="#70c870" fill="rgba(170,232,170,0.35)" stroke-width="1.4"/>
<circle cx="597" cy="400" r="3.8" stroke="#70c870" fill="rgba(170,232,170,0.35)" stroke-width="1.4"/>
<circle cx="622.1" cy="376.7" r="3.8" stroke="#70c870" fill="rgba(170,232,170,0.35)" stroke-width="1.4"/>
<circle cx="569.2" cy="339" r="3.8" stroke="#70c870" fill="rgba(170,232,170,0.35)" stroke-width="1.4"/>
<circle cx="553.1" cy="333.7" r="3.8" stroke="#70c870" fill="rgba(170,232,170,0.35)" stroke-width="1.4"/>
<circle cx="511" cy="326.5" r="3.8" stroke="#70c870" fill="rgba(170,232,170,0.35)" stroke-width="1.4"/>
<circle cx="527.1" cy="324.7" r="3.8" stroke="#70c870" fill="rgba(170,232,170,0.35)" stroke-width="1.4"/>
<circle cx="498.4" cy="308.6" r="3.8" stroke="#70c870" fill="rgba(170,232,170,0.35)" stroke-width="1.4"/>
<circle cx="517.3" cy="315.8" r="3.8" stroke="#70c870" fill="rgba(170,232,170,0.35)" stroke-width="1.4"/>
<circle cx="571" cy="315.8" r="3.8" stroke="#70c870" fill="rgba(170,232,170,0.35)" stroke-width="1.4"/>
<circle cx="574.6" cy="322" r="3.8" stroke="#70c870" fill="rgba(170,232,170,0.35)" stroke-width="1.4"/>
<circle cx="560.3" cy="326.5" r="3.8" stroke="#a0a0a0" fill="rgba(225,220,225,0.35)" stroke-width="1.4"/>
<circle cx="543" cy="277.6" r="3.8" stroke="#70c870" fill="rgba(170,232,170,0.35)" stroke-width="1.4"/>
<circle cx="560" cy="300" r="3.8" stroke="#70c870" fill="rgba(170,232,170,0.35)" stroke-width="1.4"/>
<circle cx="577" cy="324.2" r="3.8" stroke="#70c870" fill="rgba(170,232,170,0.35)" stroke-width="1.4"/>
<circle cx="512.5" cy="240" r="3.8" stroke="#a0a0a0" fill="rgba(225,220,225,0.35)" stroke-width="1.4"/>
<circle cx="512.5" cy="276" r="3.8" stroke="#a0a0a0" fill="rgba(225,220,225,0.35)" stroke-width="1.4"/>
<circle cx="559.5" cy="260.2" r="3.8" stroke="#70c870" fill="rgba(170,232,170,0.35)" stroke-width="1.4"/>
<circle cx="543.1" cy="301.2" r="3.8" stroke="#70c870" fill="rgba(170,232,170,0.35)" stroke-width="1.4"/>
<circle cx="534.9" cy="264.3" r="3.8" stroke="#70c870" fill="rgba(170,232,170,0.35)" stroke-width="1.4"/>
<circle cx="516.5" cy="278.7" r="3.8" stroke="#70c870" fill="rgba(170,232,170,0.35)" stroke-width="1.4"/>
<circle cx="516.5" cy="278.7" r="3.8" stroke="#a0a0a0" fill="rgba(225,220,225,0.35)" stroke-width="1.4"/>
<circle cx="500.1" cy="282.8" r="3.8" stroke="#a0a0a0" fill="rgba(225,220,225,0.35)" stroke-width="1.4"/>
<circle cx="455" cy="336.1" r="3.8" stroke="#a0a0a0" fill="rgba(225,220,225,0.35)" stroke-width="1.4"/>
<circle cx="461.1" cy="350.4" r="3.8" stroke="#a0a0a0" fill="rgba(225,220,225,0.35)" stroke-width="1.4"/>
<circle cx="350.5" cy="264.3" r="3.8" stroke="#a0a0a0" fill="rgba(225,220,225,0.35)" stroke-width="1.4"/>
<circle cx="375.1" cy="272.5" r="3.8" stroke="#a0a0a0" fill="rgba(225,220,225,0.35)" stroke-width="1.4"/>
<circle cx="387.4" cy="282.8" r="3.8" stroke="#a0a0a0" fill="rgba(225,220,225,0.35)" stroke-width="1.4"/>
<circle cx="391.5" cy="266.4" r="3.8" stroke="#a0a0a0" fill="rgba(225,220,225,0.35)" stroke-width="1.4"/>
<circle cx="414" cy="256.1" r="3.8" stroke="#a0a0a0" fill="rgba(225,220,225,0.35)" stroke-width="1.4"/>
<circle cx="401.7" cy="313.5" r="3.8" stroke="#70c870" fill="rgba(170,232,170,0.35)" stroke-width="1.4"/>
<circle cx="416.1" cy="303.3" r="3.8" stroke="#70c870" fill="rgba(170,232,170,0.35)" stroke-width="1.4"/>
<circle cx="438.6" cy="303.3" r="3.8" stroke="#70c870" fill="rgba(170,232,170,0.35)" stroke-width="1.4"/>
<circle cx="548.4" cy="256.1" r="3.8" stroke="#70c870" fill="rgba(170,232,170,0.35)" stroke-width="1.4"/>
<circle cx="566.3" cy="261.5" r="3.8" stroke="#70c870" fill="rgba(170,232,170,0.35)" stroke-width="1.4"/>
<circle cx="571.7" cy="261.5" r="3.8" stroke="#70c870" fill="rgba(170,232,170,0.35)" stroke-width="1.4"/>
<circle cx="535.8" cy="266" r="3.8" stroke="#70c870" fill="rgba(170,232,170,0.35)" stroke-width="1.4"/>
<circle cx="552" cy="318.9" r="3.8" stroke="#70c870" fill="rgba(170,232,170,0.35)" stroke-width="1.4"/>
<circle cx="568.1" cy="338.6" r="3.8" stroke="#70c870" fill="rgba(170,232,170,0.35)" stroke-width="1.4"/>
<circle cx="581.5" cy="336.8" r="3.8" stroke="#a0a0a0" fill="rgba(225,220,225,0.35)" stroke-width="1.4"/>
<circle cx="593.2" cy="299.1" r="3.8" stroke="#a0a0a0" fill="rgba(225,220,225,0.35)" stroke-width="1.4"/>
<circle cx="503.6" cy="317.1" r="3.8" stroke="#70c870" fill="rgba(170,232,170,0.35)" stroke-width="1.4"/>
<circle cx="521.5" cy="306.3" r="3.8" stroke="#70c870" fill="rgba(170,232,170,0.35)" stroke-width="1.4"/>
<circle cx="527.8" cy="324.2" r="3.8" stroke="#70c870" fill="rgba(170,232,170,0.35)" stroke-width="1.4"/>
<circle cx="410.7" cy="231.5" r="3.8" stroke="#a0a0a0" fill="rgba(225,220,225,0.35)" stroke-width="1.4"/>
<circle cx="424.1" cy="225.7" r="3.8" stroke="#a0a0a0" fill="rgba(225,220,225,0.35)" stroke-width="1.4"/>
<circle cx="393.4" cy="266" r="3.8" stroke="#a0a0a0" fill="rgba(225,220,225,0.35)" stroke-width="1.4"/>
<circle cx="347.3" cy="260.3" r="3.8" stroke="#a0a0a0" fill="rgba(225,220,225,0.35)" stroke-width="1.4"/>
<circle cx="332.9" cy="236.3" r="3.8" stroke="#a0a0a0" fill="rgba(225,220,225,0.35)" stroke-width="1.4"/></g>
<line x1="93" y1="41.1" x2="93" y2="450.1" stroke="#a0a0a0" stroke-width="3.8"/>
<line x1="93" y1="43" x2="753.7" y2="43" stroke="#a3a3a3" stroke-width="3.9"/>
<line x1="93" y1="448.1" x2="753.7" y2="448.1" stroke="#a0a0a0" stroke-width="4.0"/>
<line x1="753.7" y1="42" x2="753.7" y2="449.1" stroke="#666" stroke-width="2.3"/>
<line x1="82" y1="409.1" x2="93" y2="409.1" stroke="#727272" stroke-width="2.7"/>
<text transform="translate(71.3 409.1) rotate(-90) scale(0.95 1)" text-anchor="middle" class="yl">−3</text>
<line x1="82" y1="355.8" x2="93" y2="355.8" stroke="#727272" stroke-width="2.7"/>
<text transform="translate(71.3 355.8) rotate(-90) scale(0.95 1)" text-anchor="middle" class="yl">−2</text>
<line x1="82" y1="302.4" x2="93" y2="302.4" stroke="#727272" stroke-width="2.7"/>
<text transform="translate(71.3 302.4) rotate(-90) scale(0.95 1)" text-anchor="middle" class="yl">−1</text>
<line x1="82" y1="249.1" x2="93" y2="249.1" stroke="#727272" stroke-width="2.7"/>
<text transform="translate(71.3 249.1) rotate(-90) scale(0.95 1)" text-anchor="middle" class="yl">0</text>
<line x1="82" y1="195.8" x2="93" y2="195.8" stroke="#727272" stroke-width="2.7"/>
<text transform="translate(71.3 195.8) rotate(-90) scale(0.95 1)" text-anchor="middle" class="yl">1</text>
<line x1="82" y1="142.4" x2="93" y2="142.4" stroke="#727272" stroke-width="2.7"/>
<text transform="translate(71.3 142.4) rotate(-90) scale(0.95 1)" text-anchor="middle" class="yl">2</text>
<line x1="82" y1="89" x2="93" y2="89" stroke="#727272" stroke-width="2.7"/>
<text transform="translate(71.3 89) rotate(-90) scale(0.95 1)" text-anchor="middle" class="yl">3</text>
<line x1="129.4" y1="448" x2="129.4" y2="456" stroke="#727272" stroke-width="2.7"/>
<text transform="translate(129.4 484.8) scale(1.04 1)" text-anchor="middle" class="xl">20</text>
<line x1="249.2" y1="448" x2="249.2" y2="456" stroke="#727272" stroke-width="2.7"/>
<text transform="translate(249.2 484.8) scale(1.04 1)" text-anchor="middle" class="xl">30</text>
<line x1="368.9" y1="448" x2="368.9" y2="456" stroke="#727272" stroke-width="2.7"/>
<text transform="translate(368.9 484.8) scale(1.04 1)" text-anchor="middle" class="xl">40</text>
<line x1="488.7" y1="448" x2="488.7" y2="456" stroke="#727272" stroke-width="2.7"/>
<text transform="translate(488.7 484.8) scale(1.04 1)" text-anchor="middle" class="xl">50</text>
<line x1="608.4" y1="448" x2="608.4" y2="456" stroke="#727272" stroke-width="2.7"/>
<text transform="translate(608.4 484.8) scale(1.04 1)" text-anchor="middle" class="xl">60</text>
<line x1="728.2" y1="448" x2="728.2" y2="456" stroke="#727272" stroke-width="2.7"/>
<text transform="translate(728.2 484.8) scale(1.04 1)" text-anchor="middle" class="xl">70</text>
<text x="421.3" y="510.7" text-anchor="middle" class="al" style="font-size:23px" textLength="41.6" lengthAdjust="spacingAndGlyphs">Age</text>
<text transform="translate(28.6 250.5) rotate(-90)" text-anchor="middle" class="al" style="font-size:24px" textLength="78" lengthAdjust="spacingAndGlyphs">Z-score</text>
<g filter="url(#bl)"><path d="M240.2 688.2 L259 690.9 L293.1 674.8 L347.8 650.6" stroke="#8cbc8c" stroke-width="1.2" fill="none"/>
<path d="M262.7 704.7 L280.7 706" stroke="#8cbc8c" stroke-width="1.2" fill="none"/>
<path d="M237.1 726.5 L219.2 743.1" stroke="#8cbc8c" stroke-width="1.2" fill="none"/>
<path d="M316.4 679.3 L337 684.7 L369.3 657.8" stroke="#8cbc8c" stroke-width="1.2" fill="none"/>
<path d="M321.8 694.5 L337 684.7" stroke="#8cbc8c" stroke-width="1.2" fill="none"/>
<path d="M125.5 770.7 L147.9 763.6" stroke="#8cbc8c" stroke-width="1.2" fill="none"/>
<path d="M142.5 779.7 L160.4 779.7 L218.7 743 L242.2 740.5" stroke="#8cbc8c" stroke-width="1.2" fill="none"/>
<path d="M133.5 828.6 L159.5 842.5" stroke="#8cbc8c" stroke-width="1.2" fill="none"/>
<path d="M159.5 827.7 L177.4 827.7 L187.3 836.2 L213.3 858.6" stroke="#8cbc8c" stroke-width="1.2" fill="none"/>
<path d="M166.7 842.5 L224 846.1" stroke="#8cbc8c" stroke-width="1.2" fill="none"/>
<path d="M147 847 L130 855 L152.3 878.3 L188.2 859.5" stroke="#8cbc8c" stroke-width="1.2" fill="none"/>
<path d="M170.3 859.5 L185.5 868.5 L227.6 869.4" stroke="#8cbc8c" stroke-width="1.2" fill="none"/>
<path d="M157.7 890 L138.9 913.3" stroke="#8cbc8c" stroke-width="1.2" fill="none"/>
<path d="M157.7 890 L194.5 889.1" stroke="#8cbc8c" stroke-width="1.2" fill="none"/>
<path d="M194.5 889.1 L181.9 917.8" stroke="#8cbc8c" stroke-width="1.2" fill="none"/>
<path d="M194.5 889.1 L209.7 905.2 L235 910" stroke="#8cbc8c" stroke-width="1.2" fill="none"/>
<path d="M369.3 657.8 L430.6 715.3" stroke="#8cbc8c" stroke-width="1.2" fill="none"/>
<path d="M455.4 668.5 L489.4 649.7" stroke="#8cbc8c" stroke-width="1.2" fill="none"/>
<path d="M455.4 668.5 L404.5 732.2" stroke="#8cbc8c" stroke-width="1.2" fill="none"/>
<path d="M576.6 732.2 L590.2 734.2 L634.3 705.3 L680.4 666.9 L723.9 674.6" stroke="#8cbc8c" stroke-width="1.2" fill="none"/>
<path d="M604.8 738.6 L621.5 728.3" stroke="#8cbc8c" stroke-width="1.2" fill="none"/>
<path d="M663.7 783.4 L680.4 773.2" stroke="#8cbc8c" stroke-width="1.2" fill="none"/>
<path d="M242.9 738.5 L242.9 747.5 L262.6 747.5 L289.5 755.5" stroke="#8cbc8c" stroke-width="1.2" fill="none"/>
<path d="M337.9 745.7 L357.6 734.9" stroke="#8cbc8c" stroke-width="1.2" fill="none"/>
<path d="M311 795 L354 773.4 L380 740" stroke="#8cbc8c" stroke-width="1.2" fill="none"/>
<path d="M282.3 796.7 L311 795 L327.1 794" stroke="#8cbc8c" stroke-width="1.2" fill="none"/>
<path d="M265.3 812.9 L282.3 796.7" stroke="#8cbc8c" stroke-width="1.2" fill="none"/>
<path d="M343.3 810.2 L311 823.6 L291.3 818.2" stroke="#8cbc8c" stroke-width="1.2" fill="none"/>
<path d="M375.3 704.5 L337 684.7" stroke="#8cbc8c" stroke-width="1.2" fill="none"/>
<path d="M404.5 732.2 L372 746.6" stroke="#8cbc8c" stroke-width="1.2" fill="none"/>
<path d="M464.3 707.1 L484 700.9" stroke="#8cbc8c" stroke-width="1.2" fill="none"/>
<path d="M389 723.3 L358.6 734.9" stroke="#8cbc8c" stroke-width="1.2" fill="none"/>
<path d="M408.8 751 L398 762.7 L376.5 782.4 L359.5 792.3" stroke="#8cbc8c" stroke-width="1.2" fill="none"/>
<path d="M441 751 L478.7 750.1 L530.7 749.2" stroke="#8cbc8c" stroke-width="1.2" fill="none"/>
<path d="M366.6 754.6 L398 762.7 L424.9 762.7 L456.3 760 L502 773.4" stroke="#8cbc8c" stroke-width="1.2" fill="none"/>
<path d="M414.1 787.8 L398 762.7" stroke="#8cbc8c" stroke-width="1.2" fill="none"/>
<path d="M365.8 804.8 L380 775" stroke="#8cbc8c" stroke-width="1.2" fill="none"/>
<path d="M486.8 700.9 L518.2 708.9 L528.9 713.4 L547.7 695.5" stroke="#8cbc8c" stroke-width="1.2" fill="none"/>
<path d="M493.1 724.2 L511 738.5 L548.6 721.5" stroke="#8cbc8c" stroke-width="1.2" fill="none"/>
<path d="M575.5 732.2 L590.7 733.1" stroke="#8cbc8c" stroke-width="1.2" fill="none"/>
<path d="M605 738.5 L621.2 727.7" stroke="#8cbc8c" stroke-width="1.2" fill="none"/>
<path d="M268 832.6 L297.6 849.7" stroke="#8cbc8c" stroke-width="1.2" fill="none"/>
<path d="M253.7 826.4 L268 832.6" stroke="#8cbc8c" stroke-width="1.2" fill="none"/>
<path d="M257.3 847.9 L227.7 855" stroke="#8cbc8c" stroke-width="1.2" fill="none"/>
<path d="M244.7 862.2 L227.7 869.4" stroke="#8cbc8c" stroke-width="1.2" fill="none"/>
<path d="M256.4 884.6 L239.3 888.2" stroke="#8cbc8c" stroke-width="1.2" fill="none"/>
<path d="M230 880 L256.4 884.6 L269.8 898.1" stroke="#8cbc8c" stroke-width="1.2" fill="none"/>
<path d="M230 905 L249.2 913.3 L269.8 898.1 L291.3 858.6 L312.8 827.3" stroke="#8cbc8c" stroke-width="1.2" fill="none"/>
<path d="M269.8 898.1 L285.9 897.2" stroke="#8cbc8c" stroke-width="1.2" fill="none"/>
<path d="M297.6 849.7 L307.4 856 L321.8 851.5 L337.9 846.1" stroke="#8cbc8c" stroke-width="1.2" fill="none"/>
<path d="M324.5 837.1 L312.8 827.3" stroke="#8cbc8c" stroke-width="1.2" fill="none"/>
<path d="M337.9 833.5 L355.8 824.6" stroke="#8cbc8c" stroke-width="1.2" fill="none"/>
<path d="M321.8 851.5 L345.1 908.8 L360.3 920.5 L399.8 896.3" stroke="#8cbc8c" stroke-width="1.2" fill="none"/>
<path d="M375.6 838.9 L358.6 825.5" stroke="#8cbc8c" stroke-width="1.2" fill="none"/>
<path d="M408.8 835.3 L426.7 826.4" stroke="#8cbc8c" stroke-width="1.2" fill="none"/>
<path d="M400.7 799.4 L417.7 798.5 L455.4 800.9 L474.8 821.4 L494.3 838.8" stroke="#8cbc8c" stroke-width="1.2" fill="none"/>
<path d="M358.6 823.6 L392.6 821.8 L424 826.3 L455.4 821.4 L474.8 821.4 L489.2 821.4 L524 834.7 L538.4 821.4" stroke="#8cbc8c" stroke-width="1.2" fill="none"/>
<path d="M436.5 832.6 L456.4 848 L474.8 821.4 L503.5 787.6" stroke="#8cbc8c" stroke-width="1.2" fill="none"/>
<path d="M524 834.7 L516.8 846" stroke="#8cbc8c" stroke-width="1.2" fill="none"/>
<circle cx="240.2" cy="688.2" r="3.8" stroke="#70c870" fill="rgba(170,232,170,0.35)" stroke-width="1.4"/>
<circle cx="259" cy="690.9" r="3.8" stroke="#70c870" fill="rgba(170,232,170,0.35)" stroke-width="1.4"/>
<circle cx="293.1" cy="674.8" r="3.8" stroke="#70c870" fill="rgba(170,232,170,0.35)" stroke-width="1.4"/>
<circle cx="347.8" cy="650.6" r="3.8" stroke="#70c870" fill="rgba(170,232,170,0.35)" stroke-width="1.4"/>
<circle cx="262.7" cy="704.7" r="3.8" stroke="#70c870" fill="rgba(170,232,170,0.35)" stroke-width="1.4"/>
<circle cx="280.7" cy="706" r="3.8" stroke="#70c870" fill="rgba(170,232,170,0.35)" stroke-width="1.4"/>
<circle cx="237.1" cy="726.5" r="3.8" stroke="#70c870" fill="rgba(170,232,170,0.35)" stroke-width="1.4"/>
<circle cx="219.2" cy="743.1" r="3.8" stroke="#70c870" fill="rgba(170,232,170,0.35)" stroke-width="1.4"/>
<circle cx="316.4" cy="679.3" r="3.8" stroke="#70c870" fill="rgba(170,232,170,0.35)" stroke-width="1.4"/>
<circle cx="337" cy="684.7" r="3.8" stroke="#70c870" fill="rgba(170,232,170,0.35)" stroke-width="1.4"/>
<circle cx="369.3" cy="657.8" r="3.8" stroke="#70c870" fill="rgba(170,232,170,0.35)" stroke-width="1.4"/>
<circle cx="321.8" cy="694.5" r="3.8" stroke="#70c870" fill="rgba(170,232,170,0.35)" stroke-width="1.4"/>
<circle cx="337" cy="684.7" r="3.8" stroke="#70c870" fill="rgba(170,232,170,0.35)" stroke-width="1.4"/>
<circle cx="125.5" cy="770.7" r="3.8" stroke="#70c870" fill="rgba(170,232,170,0.35)" stroke-width="1.4"/>
<circle cx="147.9" cy="763.6" r="3.8" stroke="#70c870" fill="rgba(170,232,170,0.35)" stroke-width="1.4"/>
<circle cx="142.5" cy="779.7" r="3.8" stroke="#70c870" fill="rgba(170,232,170,0.35)" stroke-width="1.4"/>
<circle cx="160.4" cy="779.7" r="3.8" stroke="#70c870" fill="rgba(170,232,170,0.35)" stroke-width="1.4"/>
<circle cx="218.7" cy="743" r="3.8" stroke="#70c870" fill="rgba(170,232,170,0.35)" stroke-width="1.4"/>
<circle cx="242.2" cy="740.5" r="3.8" stroke="#70c870" fill="rgba(170,232,170,0.35)" stroke-width="1.4"/>
<circle cx="133.5" cy="828.6" r="3.8" stroke="#70c870" fill="rgba(170,232,170,0.35)" stroke-width="1.4"/>
<circle cx="159.5" cy="842.5" r="3.8" stroke="#70c870" fill="rgba(170,232,170,0.35)" stroke-width="1.4"/>
<circle cx="159.5" cy="827.7" r="3.8" stroke="#70c870" fill="rgba(170,232,170,0.35)" stroke-width="1.4"/>
<circle cx="177.4" cy="827.7" r="3.8" stroke="#70c870" fill="rgba(170,232,170,0.35)" stroke-width="1.4"/>
<circle cx="187.3" cy="836.2" r="3.8" stroke="#70c870" fill="rgba(170,232,170,0.35)" stroke-width="1.4"/>
<circle cx="213.3" cy="858.6" r="3.8" stroke="#70c870" fill="rgba(170,232,170,0.35)" stroke-width="1.4"/>
<circle cx="166.7" cy="842.5" r="3.8" stroke="#70c870" fill="rgba(170,232,170,0.35)" stroke-width="1.4"/>
<circle cx="224" cy="846.1" r="3.8" stroke="#70c870" fill="rgba(170,232,170,0.35)" stroke-width="1.4"/>
<circle cx="147" cy="847" r="3.8" stroke="#70c870" fill="rgba(170,232,170,0.35)" stroke-width="1.4"/>
<circle cx="130" cy="855" r="3.8" stroke="#70c870" fill="rgba(170,232,170,0.35)" stroke-width="1.4"/>
<circle cx="152.3" cy="878.3" r="3.8" stroke="#70c870" fill="rgba(170,232,170,0.35)" stroke-width="1.4"/>
<circle cx="188.2" cy="859.5" r="3.8" stroke="#70c870" fill="rgba(170,232,170,0.35)" stroke-width="1.4"/>
<circle cx="170.3" cy="859.5" r="3.8" stroke="#70c870" fill="rgba(170,232,170,0.35)" stroke-width="1.4"/>
<circle cx="185.5" cy="868.5" r="3.8" stroke="#70c870" fill="rgba(170,232,170,0.35)" stroke-width="1.4"/>
<circle cx="227.6" cy="869.4" r="3.8" stroke="#70c870" fill="rgba(170,232,170,0.35)" stroke-width="1.4"/>
<circle cx="157.7" cy="890" r="3.8" stroke="#70c870" fill="rgba(170,232,170,0.35)" stroke-width="1.4"/>
<circle cx="138.9" cy="913.3" r="3.8" stroke="#70c870" fill="rgba(170,232,170,0.35)" stroke-width="1.4"/>
<circle cx="157.7" cy="890" r="3.8" stroke="#70c870" fill="rgba(170,232,170,0.35)" stroke-width="1.4"/>
<circle cx="194.5" cy="889.1" r="3.8" stroke="#70c870" fill="rgba(170,232,170,0.35)" stroke-width="1.4"/>
<circle cx="194.5" cy="889.1" r="3.8" stroke="#70c870" fill="rgba(170,232,170,0.35)" stroke-width="1.4"/>
<circle cx="181.9" cy="917.8" r="3.8" stroke="#70c870" fill="rgba(170,232,170,0.35)" stroke-width="1.4"/>
<circle cx="194.5" cy="889.1" r="3.8" stroke="#70c870" fill="rgba(170,232,170,0.35)" stroke-width="1.4"/>
<circle cx="209.7" cy="905.2" r="3.8" stroke="#70c870" fill="rgba(170,232,170,0.35)" stroke-width="1.4"/>
<circle cx="235" cy="910" r="3.8" stroke="#70c870" fill="rgba(170,232,170,0.35)" stroke-width="1.4"/>
<circle cx="369.3" cy="657.8" r="3.8" stroke="#70c870" fill="rgba(170,232,170,0.35)" stroke-width="1.4"/>
<circle cx="430.6" cy="715.3" r="3.8" stroke="#70c870" fill="rgba(170,232,170,0.35)" stroke-width="1.4"/>
<circle cx="455.4" cy="668.5" r="3.8" stroke="#70c870" fill="rgba(170,232,170,0.35)" stroke-width="1.4"/>
<circle cx="489.4" cy="649.7" r="3.8" stroke="#70c870" fill="rgba(170,232,170,0.35)" stroke-width="1.4"/>
<circle cx="455.4" cy="668.5" r="3.8" stroke="#70c870" fill="rgba(170,232,170,0.35)" stroke-width="1.4"/>
<circle cx="404.5" cy="732.2" r="3.8" stroke="#70c870" fill="rgba(170,232,170,0.35)" stroke-width="1.4"/>
<circle cx="546.8" cy="694.5" r="3.8" stroke="#70c870" fill="rgba(170,232,170,0.35)" stroke-width="1.4"/>
<circle cx="576.6" cy="732.2" r="3.8" stroke="#70c870" fill="rgba(170,232,170,0.35)" stroke-width="1.4"/>
<circle cx="590.2" cy="734.2" r="3.8" stroke="#70c870" fill="rgba(170,232,170,0.35)" stroke-width="1.4"/>
<circle cx="634.3" cy="705.3" r="3.8" stroke="#70c870" fill="rgba(170,232,170,0.35)" stroke-width="1.4"/>
<circle cx="680.4" cy="666.9" r="3.8" stroke="#70c870" fill="rgba(170,232,170,0.35)" stroke-width="1.4"/>
<circle cx="723.9" cy="674.6" r="3.8" stroke="#70c870" fill="rgba(170,232,170,0.35)" stroke-width="1.4"/>
<circle cx="604.8" cy="738.6" r="3.8" stroke="#70c870" fill="rgba(170,232,170,0.35)" stroke-width="1.4"/>
<circle cx="621.5" cy="728.3" r="3.8" stroke="#70c870" fill="rgba(170,232,170,0.35)" stroke-width="1.4"/>
<circle cx="663.7" cy="783.4" r="3.8" stroke="#70c870" fill="rgba(170,232,170,0.35)" stroke-width="1.4"/>
<circle cx="680.4" cy="773.2" r="3.8" stroke="#70c870" fill="rgba(170,232,170,0.35)" stroke-width="1.4"/>
<circle cx="242.9" cy="738.5" r="3.8" stroke="#70c870" fill="rgba(170,232,170,0.35)" stroke-width="1.4"/>
<circle cx="242.9" cy="747.5" r="3.8" stroke="#70c870" fill="rgba(170,232,170,0.35)" stroke-width="1.4"/>
<circle cx="262.6" cy="747.5" r="3.8" stroke="#70c870" fill="rgba(170,232,170,0.35)" stroke-width="1.4"/>
<circle cx="289.5" cy="755.5" r="3.8" stroke="#70c870" fill="rgba(170,232,170,0.35)" stroke-width="1.4"/>
<circle cx="337.9" cy="745.7" r="3.8" stroke="#70c870" fill="rgba(170,232,170,0.35)" stroke-width="1.4"/>
<circle cx="357.6" cy="734.9" r="3.8" stroke="#70c870" fill="rgba(170,232,170,0.35)" stroke-width="1.4"/>
<circle cx="311" cy="795" r="3.8" stroke="#70c870" fill="rgba(170,232,170,0.35)" stroke-width="1.4"/>
<circle cx="354" cy="773.4" r="3.8" stroke="#70c870" fill="rgba(170,232,170,0.35)" stroke-width="1.4"/>
<circle cx="380" cy="740" r="3.8" stroke="#70c870" fill="rgba(170,232,170,0.35)" stroke-width="1.4"/>
<circle cx="361.2" cy="792.3" r="3.8" stroke="#70c870" fill="rgba(170,232,170,0.35)" stroke-width="1.4"/>
<circle cx="282.3" cy="796.7" r="3.8" stroke="#70c870" fill="rgba(170,232,170,0.35)" stroke-width="1.4"/>
<circle cx="311" cy="795" r="3.8" stroke="#70c870" fill="rgba(170,232,170,0.35)" stroke-width="1.4"/>
<circle cx="327.1" cy="794" r="3.8" stroke="#70c870" fill="rgba(170,232,170,0.35)" stroke-width="1.4"/>
<circle cx="265.3" cy="812.9" r="3.8" stroke="#70c870" fill="rgba(170,232,170,0.35)" stroke-width="1.4"/>
<circle cx="282.3" cy="796.7" r="3.8" stroke="#70c870" fill="rgba(170,232,170,0.35)" stroke-width="1.4"/>
<circle cx="343.3" cy="810.2" r="3.8" stroke="#70c870" fill="rgba(170,232,170,0.35)" stroke-width="1.4"/>
<circle cx="311" cy="823.6" r="3.8" stroke="#70c870" fill="rgba(170,232,170,0.35)" stroke-width="1.4"/>
<circle cx="291.3" cy="818.2" r="3.8" stroke="#70c870" fill="rgba(170,232,170,0.35)" stroke-width="1.4"/>
<circle cx="253.7" cy="825.4" r="3.8" stroke="#70c870" fill="rgba(170,232,170,0.35)" stroke-width="1.4"/>
<circle cx="375.3" cy="704.5" r="3.8" stroke="#70c870" fill="rgba(170,232,170,0.35)" stroke-width="1.4"/>
<circle cx="337" cy="684.7" r="3.8" stroke="#70c870" fill="rgba(170,232,170,0.35)" stroke-width="1.4"/>
<circle cx="404.5" cy="732.2" r="3.8" stroke="#70c870" fill="rgba(170,232,170,0.35)" stroke-width="1.4"/>
<circle cx="372" cy="746.6" r="3.8" stroke="#70c870" fill="rgba(170,232,170,0.35)" stroke-width="1.4"/>
<circle cx="464.3" cy="707.1" r="3.8" stroke="#70c870" fill="rgba(170,232,170,0.35)" stroke-width="1.4"/>
<circle cx="484" cy="700.9" r="3.8" stroke="#70c870" fill="rgba(170,232,170,0.35)" stroke-width="1.4"/>
<circle cx="493" cy="723.3" r="3.8" stroke="#70c870" fill="rgba(170,232,170,0.35)" stroke-width="1.4"/>
<circle cx="389" cy="723.3" r="3.8" stroke="#70c870" fill="rgba(170,232,170,0.35)" stroke-width="1.4"/>
<circle cx="358.6" cy="734.9" r="3.8" stroke="#70c870" fill="rgba(170,232,170,0.35)" stroke-width="1.4"/>
<circle cx="408.8" cy="751" r="3.8" stroke="#70c870" fill="rgba(170,232,170,0.35)" stroke-width="1.4"/>
<circle cx="398" cy="762.7" r="3.8" stroke="#70c870" fill="rgba(170,232,170,0.35)" stroke-width="1.4"/>
<circle cx="376.5" cy="782.4" r="3.8" stroke="#70c870" fill="rgba(170,232,170,0.35)" stroke-width="1.4"/>
<circle cx="359.5" cy="792.3" r="3.8" stroke="#70c870" fill="rgba(170,232,170,0.35)" stroke-width="1.4"/>
<circle cx="441" cy="751" r="3.8" stroke="#70c870" fill="rgba(170,232,170,0.35)" stroke-width="1.4"/>
<circle cx="478.7" cy="750.1" r="3.8" stroke="#70c870" fill="rgba(170,232,170,0.35)" stroke-width="1.4"/>
<circle cx="530.7" cy="749.2" r="3.8" stroke="#70c870" fill="rgba(170,232,170,0.35)" stroke-width="1.4"/>
<circle cx="366.6" cy="754.6" r="3.8" stroke="#70c870" fill="rgba(170,232,170,0.35)" stroke-width="1.4"/>
<circle cx="398" cy="762.7" r="3.8" stroke="#70c870" fill="rgba(170,232,170,0.35)" stroke-width="1.4"/>
<circle cx="424.9" cy="762.7" r="3.8" stroke="#70c870" fill="rgba(170,232,170,0.35)" stroke-width="1.4"/>
<circle cx="456.3" cy="760" r="3.8" stroke="#70c870" fill="rgba(170,232,170,0.35)" stroke-width="1.4"/>
<circle cx="502" cy="773.4" r="3.8" stroke="#70c870" fill="rgba(170,232,170,0.35)" stroke-width="1.4"/>
<circle cx="414.1" cy="787.8" r="3.8" stroke="#70c870" fill="rgba(170,232,170,0.35)" stroke-width="1.4"/>
<circle cx="398" cy="762.7" r="3.8" stroke="#70c870" fill="rgba(170,232,170,0.35)" stroke-width="1.4"/>
<circle cx="365.8" cy="804.8" r="3.8" stroke="#70c870" fill="rgba(170,232,170,0.35)" stroke-width="1.4"/>
<circle cx="380" cy="775" r="3.8" stroke="#70c870" fill="rgba(170,232,170,0.35)" stroke-width="1.4"/>
<circle cx="486.8" cy="700.9" r="3.8" stroke="#70c870" fill="rgba(170,232,170,0.35)" stroke-width="1.4"/>
<circle cx="518.2" cy="708.9" r="3.8" stroke="#70c870" fill="rgba(170,232,170,0.35)" stroke-width="1.4"/>
<circle cx="528.9" cy="713.4" r="3.8" stroke="#70c870" fill="rgba(170,232,170,0.35)" stroke-width="1.4"/>
<circle cx="547.7" cy="695.5" r="3.8" stroke="#70c870" fill="rgba(170,232,170,0.35)" stroke-width="1.4"/>
<circle cx="493.1" cy="724.2" r="3.8" stroke="#70c870" fill="rgba(170,232,170,0.35)" stroke-width="1.4"/>
<circle cx="511" cy="738.5" r="3.8" stroke="#70c870" fill="rgba(170,232,170,0.35)" stroke-width="1.4"/>
<circle cx="548.6" cy="721.5" r="3.8" stroke="#70c870" fill="rgba(170,232,170,0.35)" stroke-width="1.4"/>
<circle cx="575.5" cy="732.2" r="3.8" stroke="#70c870" fill="rgba(170,232,170,0.35)" stroke-width="1.4"/>
<circle cx="590.7" cy="733.1" r="3.8" stroke="#70c870" fill="rgba(170,232,170,0.35)" stroke-width="1.4"/>
<circle cx="605" cy="738.5" r="3.8" stroke="#70c870" fill="rgba(170,232,170,0.35)" stroke-width="1.4"/>
<circle cx="621.2" cy="727.7" r="3.8" stroke="#70c870" fill="rgba(170,232,170,0.35)" stroke-width="1.4"/>
<circle cx="268" cy="832.6" r="3.8" stroke="#70c870" fill="rgba(170,232,170,0.35)" stroke-width="1.4"/>
<circle cx="297.6" cy="849.7" r="3.8" stroke="#70c870" fill="rgba(170,232,170,0.35)" stroke-width="1.4"/>
<circle cx="253.7" cy="826.4" r="3.8" stroke="#70c870" fill="rgba(170,232,170,0.35)" stroke-width="1.4"/>
<circle cx="268" cy="832.6" r="3.8" stroke="#70c870" fill="rgba(170,232,170,0.35)" stroke-width="1.4"/>
<circle cx="257.3" cy="847.9" r="3.8" stroke="#70c870" fill="rgba(170,232,170,0.35)" stroke-width="1.4"/>
<circle cx="227.7" cy="855" r="3.8" stroke="#70c870" fill="rgba(170,232,170,0.35)" stroke-width="1.4"/>
<circle cx="244.7" cy="862.2" r="3.8" stroke="#70c870" fill="rgba(170,232,170,0.35)" stroke-width="1.4"/>
<circle cx="227.7" cy="869.4" r="3.8" stroke="#70c870" fill="rgba(170,232,170,0.35)" stroke-width="1.4"/>
<circle cx="256.4" cy="884.6" r="3.8" stroke="#70c870" fill="rgba(170,232,170,0.35)" stroke-width="1.4"/>
<circle cx="239.3" cy="888.2" r="3.8" stroke="#70c870" fill="rgba(170,232,170,0.35)" stroke-width="1.4"/>
<circle cx="230" cy="880" r="3.8" stroke="#70c870" fill="rgba(170,232,170,0.35)" stroke-width="1.4"/>
<circle cx="256.4" cy="884.6" r="3.8" stroke="#70c870" fill="rgba(170,232,170,0.35)" stroke-width="1.4"/>
<circle cx="269.8" cy="898.1" r="3.8" stroke="#70c870" fill="rgba(170,232,170,0.35)" stroke-width="1.4"/>
<circle cx="230" cy="905" r="3.8" stroke="#70c870" fill="rgba(170,232,170,0.35)" stroke-width="1.4"/>
<circle cx="249.2" cy="913.3" r="3.8" stroke="#70c870" fill="rgba(170,232,170,0.35)" stroke-width="1.4"/>
<circle cx="269.8" cy="898.1" r="3.8" stroke="#70c870" fill="rgba(170,232,170,0.35)" stroke-width="1.4"/>
<circle cx="291.3" cy="858.6" r="3.8" stroke="#70c870" fill="rgba(170,232,170,0.35)" stroke-width="1.4"/>
<circle cx="312.8" cy="827.3" r="3.8" stroke="#70c870" fill="rgba(170,232,170,0.35)" stroke-width="1.4"/>
<circle cx="269.8" cy="898.1" r="3.8" stroke="#70c870" fill="rgba(170,232,170,0.35)" stroke-width="1.4"/>
<circle cx="285.9" cy="897.2" r="3.8" stroke="#70c870" fill="rgba(170,232,170,0.35)" stroke-width="1.4"/>
<circle cx="297.6" cy="849.7" r="3.8" stroke="#70c870" fill="rgba(170,232,170,0.35)" stroke-width="1.4"/>
<circle cx="307.4" cy="856" r="3.8" stroke="#70c870" fill="rgba(170,232,170,0.35)" stroke-width="1.4"/>
<circle cx="321.8" cy="851.5" r="3.8" stroke="#70c870" fill="rgba(170,232,170,0.35)" stroke-width="1.4"/>
<circle cx="337.9" cy="846.1" r="3.8" stroke="#70c870" fill="rgba(170,232,170,0.35)" stroke-width="1.4"/>
<circle cx="324.5" cy="837.1" r="3.8" stroke="#70c870" fill="rgba(170,232,170,0.35)" stroke-width="1.4"/>
<circle cx="312.8" cy="827.3" r="3.8" stroke="#70c870" fill="rgba(170,232,170,0.35)" stroke-width="1.4"/>
<circle cx="337.9" cy="833.5" r="3.8" stroke="#70c870" fill="rgba(170,232,170,0.35)" stroke-width="1.4"/>
<circle cx="355.8" cy="824.6" r="3.8" stroke="#70c870" fill="rgba(170,232,170,0.35)" stroke-width="1.4"/>
<circle cx="321.8" cy="851.5" r="3.8" stroke="#70c870" fill="rgba(170,232,170,0.35)" stroke-width="1.4"/>
<circle cx="345.1" cy="908.8" r="3.8" stroke="#70c870" fill="rgba(170,232,170,0.35)" stroke-width="1.4"/>
<circle cx="360.3" cy="920.5" r="3.8" stroke="#70c870" fill="rgba(170,232,170,0.35)" stroke-width="1.4"/>
<circle cx="399.8" cy="896.3" r="3.8" stroke="#70c870" fill="rgba(170,232,170,0.35)" stroke-width="1.4"/>
<circle cx="375.6" cy="838.9" r="3.8" stroke="#70c870" fill="rgba(170,232,170,0.35)" stroke-width="1.4"/>
<circle cx="358.6" cy="825.5" r="3.8" stroke="#70c870" fill="rgba(170,232,170,0.35)" stroke-width="1.4"/>
<circle cx="408.8" cy="835.3" r="3.8" stroke="#70c870" fill="rgba(170,232,170,0.35)" stroke-width="1.4"/>
<circle cx="426.7" cy="826.4" r="3.8" stroke="#70c870" fill="rgba(170,232,170,0.35)" stroke-width="1.4"/>
<circle cx="400.7" cy="799.4" r="3.8" stroke="#70c870" fill="rgba(170,232,170,0.35)" stroke-width="1.4"/>
<circle cx="417.7" cy="798.5" r="3.8" stroke="#70c870" fill="rgba(170,232,170,0.35)" stroke-width="1.4"/>
<circle cx="455.4" cy="800.9" r="3.8" stroke="#70c870" fill="rgba(170,232,170,0.35)" stroke-width="1.4"/>
<circle cx="474.8" cy="821.4" r="3.8" stroke="#70c870" fill="rgba(170,232,170,0.35)" stroke-width="1.4"/>
<circle cx="494.3" cy="838.8" r="3.8" stroke="#70c870" fill="rgba(170,232,170,0.35)" stroke-width="1.4"/>
<circle cx="358.6" cy="823.6" r="3.8" stroke="#70c870" fill="rgba(170,232,170,0.35)" stroke-width="1.4"/>
<circle cx="392.6" cy="821.8" r="3.8" stroke="#70c870" fill="rgba(170,232,170,0.35)" stroke-width="1.4"/>
<circle cx="424" cy="826.3" r="3.8" stroke="#70c870" fill="rgba(170,232,170,0.35)" stroke-width="1.4"/>
<circle cx="455.4" cy="821.4" r="3.8" stroke="#70c870" fill="rgba(170,232,170,0.35)" stroke-width="1.4"/>
<circle cx="474.8" cy="821.4" r="3.8" stroke="#70c870" fill="rgba(170,232,170,0.35)" stroke-width="1.4"/>
<circle cx="489.2" cy="821.4" r="3.8" stroke="#70c870" fill="rgba(170,232,170,0.35)" stroke-width="1.4"/>
<circle cx="524" cy="834.7" r="3.8" stroke="#70c870" fill="rgba(170,232,170,0.35)" stroke-width="1.4"/>
<circle cx="538.4" cy="821.4" r="3.8" stroke="#70c870" fill="rgba(170,232,170,0.35)" stroke-width="1.4"/>
<circle cx="436.5" cy="832.6" r="3.8" stroke="#70c870" fill="rgba(170,232,170,0.35)" stroke-width="1.4"/>
<circle cx="456.4" cy="848" r="3.8" stroke="#70c870" fill="rgba(170,232,170,0.35)" stroke-width="1.4"/>
<circle cx="474.8" cy="821.4" r="3.8" stroke="#70c870" fill="rgba(170,232,170,0.35)" stroke-width="1.4"/>
<circle cx="503.5" cy="787.6" r="3.8" stroke="#70c870" fill="rgba(170,232,170,0.35)" stroke-width="1.4"/>
<circle cx="524" cy="834.7" r="3.8" stroke="#70c870" fill="rgba(170,232,170,0.35)" stroke-width="1.4"/>
<circle cx="516.8" cy="846" r="3.8" stroke="#70c870" fill="rgba(170,232,170,0.35)" stroke-width="1.4"/></g>
<line x1="93" y1="559.5" x2="93" y2="968.5" stroke="#a0a0a0" stroke-width="3.8"/>
<line x1="93" y1="561.4" x2="753.7" y2="561.4" stroke="#747474" stroke-width="2.6"/>
<line x1="93" y1="966.5" x2="753.7" y2="966.5" stroke="#5a5a5a" stroke-width="2.3"/>
<line x1="753.7" y1="560.4" x2="753.7" y2="967.5" stroke="#6c6c6c" stroke-width="2.3"/>
<line x1="82" y1="927.2" x2="93" y2="927.2" stroke="#727272" stroke-width="2.7"/>
<text transform="translate(71.3 927.2) rotate(-90) scale(0.95 1)" text-anchor="middle" class="yl">−3</text>
<line x1="82" y1="874.1" x2="93" y2="874.1" stroke="#727272" stroke-width="2.7"/>
<text transform="translate(71.3 874.1) rotate(-90) scale(0.95 1)" text-anchor="middle" class="yl">−2</text>
<line x1="82" y1="820.9" x2="93" y2="820.9" stroke="#727272" stroke-width="2.7"/>
<text transform="translate(71.3 820.9) rotate(-90) scale(0.95 1)" text-anchor="middle" class="yl">−1</text>
<line x1="82" y1="767.8" x2="93" y2="767.8" stroke="#727272" stroke-width="2.7"/>
<text transform="translate(71.3 767.8) rotate(-90) scale(0.95 1)" text-anchor="middle" class="yl">0</text>
<line x1="82" y1="714.6" x2="93" y2="714.6" stroke="#727272" stroke-width="2.7"/>
<text transform="translate(71.3 714.6) rotate(-90) scale(0.95 1)" text-anchor="middle" class="yl">1</text>
<line x1="82" y1="661.5" x2="93" y2="661.5" stroke="#727272" stroke-width="2.7"/>
<text transform="translate(71.3 661.5) rotate(-90) scale(0.95 1)" text-anchor="middle" class="yl">2</text>
<line x1="82" y1="608.3" x2="93" y2="608.3" stroke="#727272" stroke-width="2.7"/>
<text transform="translate(71.3 608.3) rotate(-90) scale(0.95 1)" text-anchor="middle" class="yl">3</text>
<line x1="117.9" y1="966.4" x2="117.9" y2="975.5" stroke="#727272" stroke-width="2.7"/>
<text transform="translate(117.9 1008) scale(0.92 1)" text-anchor="middle" class="xl2">0</text>
<line x1="219.7" y1="966.4" x2="219.7" y2="975.5" stroke="#727272" stroke-width="2.7"/>
<text transform="translate(219.7 1008) scale(0.92 1)" text-anchor="middle" class="xl2">2000</text>
<line x1="321.4" y1="966.4" x2="321.4" y2="975.5" stroke="#727272" stroke-width="2.7"/>
<text transform="translate(321.4 1008) scale(0.92 1)" text-anchor="middle" class="xl2">4000</text>
<line x1="423.1" y1="966.4" x2="423.1" y2="975.5" stroke="#727272" stroke-width="2.7"/>
<text transform="translate(423.1 1008) scale(0.92 1)" text-anchor="middle" class="xl2">6000</text>
<line x1="524.9" y1="966.4" x2="524.9" y2="975.5" stroke="#727272" stroke-width="2.7"/>
<text transform="translate(524.9 1008) scale(0.92 1)" text-anchor="middle" class="xl2">8000</text>
<line x1="626.6" y1="966.4" x2="626.6" y2="975.5" stroke="#727272" stroke-width="2.7"/>
<text transform="translate(626.6 1008) scale(0.92 1)" text-anchor="middle" class="xl2">10000</text>
<line x1="728.4" y1="966.4" x2="728.4" y2="975.5" stroke="#727272" stroke-width="2.7"/>
<text transform="translate(728.4 1008) scale(0.92 1)" text-anchor="middle" class="xl2">12000</text>
<text x="429.4" y="1038.9" text-anchor="middle" class="al" textLength="196" lengthAdjust="spacingAndGlyphs">Days HIV Infected</text>
<text transform="translate(25.2 769) rotate(-90)" text-anchor="middle" class="al" style="font-size:24.5px" textLength="78" lengthAdjust="spacingAndGlyphs">Z-score</text>
</svg>
</body></html>
